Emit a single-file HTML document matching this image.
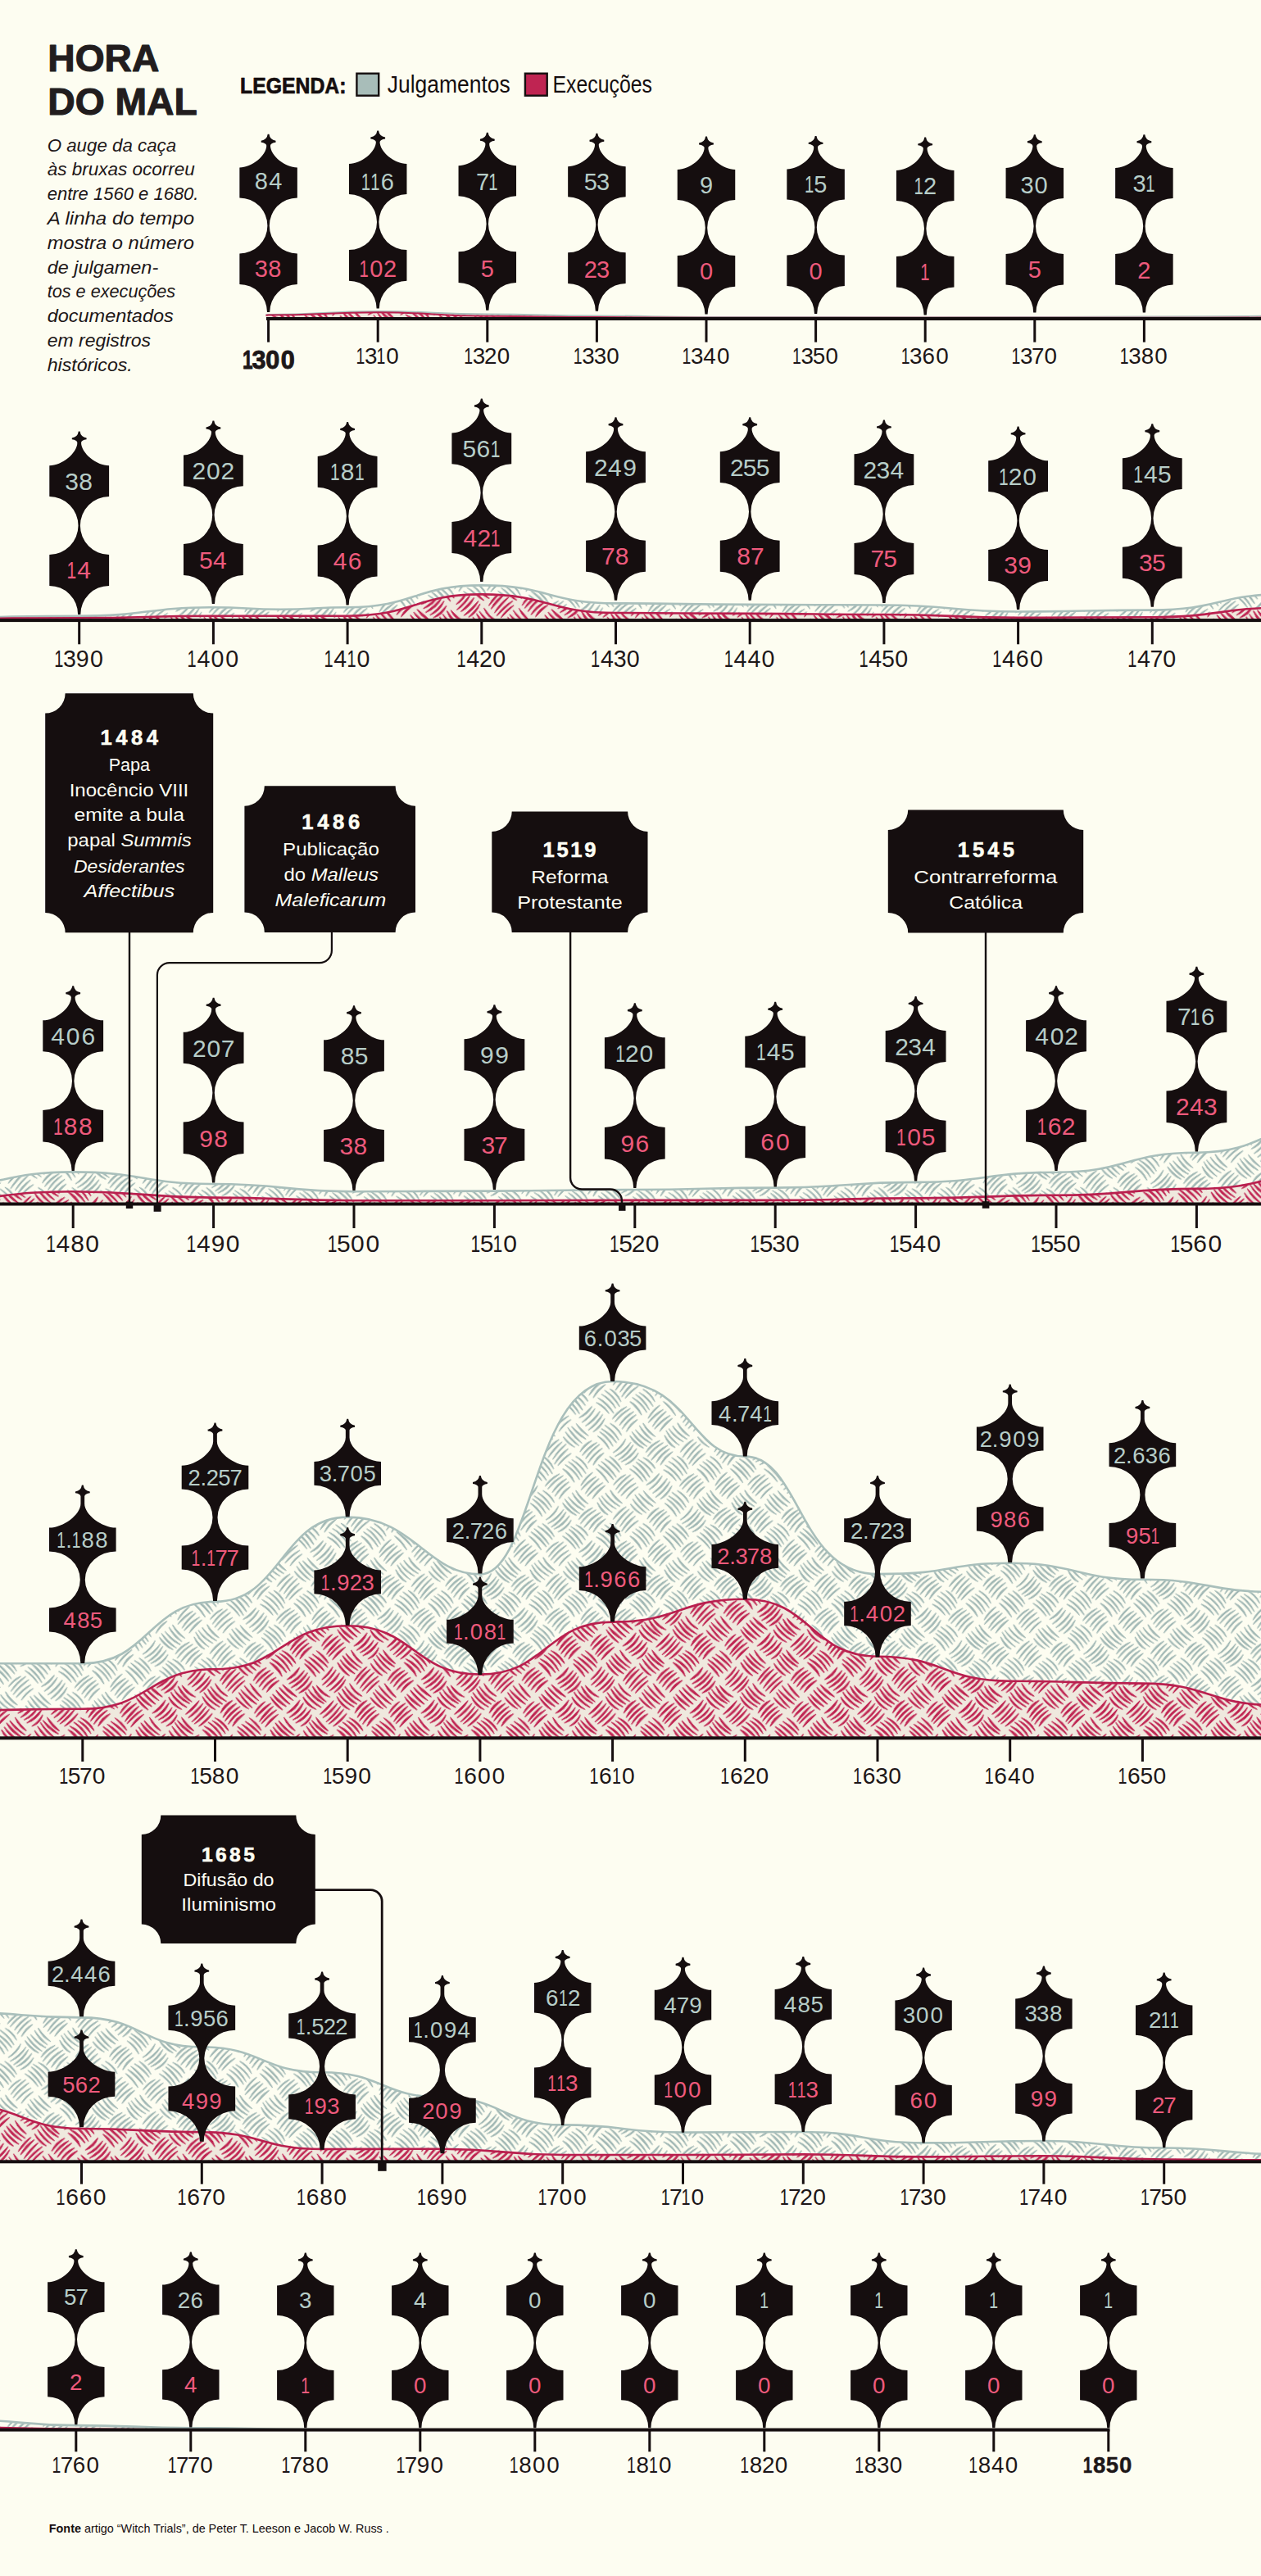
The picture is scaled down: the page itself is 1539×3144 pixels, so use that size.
<!DOCTYPE html>
<html><head><meta charset="utf-8"><title>Hora do mal</title>
<style>html,body{margin:0;padding:0;background:#fdfdf1}svg{display:block}text{font-family:"Liberation Sans", sans-serif}</style></head>
<body>
<svg width="1539" height="3144" viewBox="0 0 1539 3144">
<defs>
<pattern id="hg" width="116" height="116" patternUnits="userSpaceOnUse" patternTransform="translate(5 9) rotate(45)"><rect x="-1" y="-1" width="118" height="118" fill="#fdfdf1"/><g fill="#9fb6b3" stroke="#9fb6b3" stroke-width="1.15" stroke-linejoin="round"><path d="M5.16 3.04 Q15.14 1.89 25.07 3.42 Q15.2 -0.8 5.16 3.04 Z"/><path d="M2.11 9.12 Q14.44 7.96 26.66 9.9 Q14.51 5.69 2.11 9.12 Z"/><path d="M2.34 15.12 Q14.67 13.44 27.09 14.16 Q14.55 10.47 2.34 15.12 Z"/><path d="M3.39 19.25 Q15.32 18.12 27.11 20.25 Q15.41 16.02 3.39 19.25 Z"/><path d="M5.28 24.68 Q15.85 24.02 26.28 25.84 Q16.01 21.13 5.28 24.68 Z"/><path d="M4.01 34.06 Q-0.14 43.65 3.63 53.4 Q2.89 43.71 4.01 34.06 Z"/><path d="M10.13 31.04 Q5.47 42.57 8.68 54.58 Q8.45 42.75 10.13 31.04 Z"/><path d="M14.01 30.41 Q10.52 42.52 14.46 54.5 Q13.06 42.47 14.01 30.41 Z"/><path d="M19.75 31.22 Q16.23 43.72 20.05 56.12 Q18.68 43.68 19.75 31.22 Z"/><path d="M25.04 34.13 Q21.72 44.07 26.33 53.49 Q24.76 43.87 25.04 34.13 Z"/><path d="M4.12 61.15 Q14.51 59.62 24.8 61.71 Q14.57 57.44 4.12 61.15 Z"/><path d="M3.57 67.27 Q15.5 65.44 27.45 67.2 Q15.5 63.23 3.57 67.27 Z"/><path d="M2.15 72.02 Q14.8 70.92 27.24 73.45 Q14.92 68.77 2.15 72.02 Z"/><path d="M2 77.43 Q14.54 75.82 27.04 77.81 Q14.58 73.62 2 77.43 Z"/><path d="M3.66 83.1 Q14.32 82.29 24.76 84.62 Q14.51 79.65 3.66 83.1 Z"/><path d="M4.94 90.47 Q0.25 101.54 3.25 113.18 Q2.94 101.74 4.94 90.47 Z"/><path d="M9.62 88.94 Q5.17 100.97 7.97 113.49 Q7.41 101.12 9.62 88.94 Z"/><path d="M15.19 88.68 Q10.95 100.52 14.75 112.52 Q13.96 100.58 15.19 88.68 Z"/><path d="M19.95 89.26 Q16.2 101.36 20.17 113.4 Q18.9 101.34 19.95 89.26 Z"/><path d="M25.32 92.23 Q21.95 102.26 26.12 111.98 Q24.47 102.16 25.32 92.23 Z"/><path d="M32.02 3.32 Q34.69 14.34 33.06 25.55 Q37.12 14.22 32.02 3.32 Z"/><path d="M39.25 1.68 Q40.61 14.52 37.93 27.15 Q43.3 14.66 39.25 1.68 Z"/><path d="M43.54 1.73 Q45.59 14.44 43.93 27.21 Q48.62 14.4 43.54 1.73 Z"/><path d="M49.74 2.17 Q50.71 14.49 48.02 26.55 Q53.78 14.71 49.74 2.17 Z"/><path d="M55.05 4.36 Q56.49 15.07 53.89 25.56 Q59.19 15.22 55.05 4.36 Z"/><path d="M33.27 31.98 Q43.95 31.58 54.56 32.96 Q44.07 29.11 33.27 31.98 Z"/><path d="M31.39 38.13 Q43.23 36.7 55.14 37.13 Q43.13 34.3 31.39 38.13 Z"/><path d="M30.47 43.55 Q43.6 43.05 56.68 44.26 Q43.66 40.51 30.47 43.55 Z"/><path d="M30.7 48.81 Q43.48 48.05 56.27 48.59 Q43.45 45.1 30.7 48.81 Z"/><path d="M32.07 54.26 Q43.31 54.21 54.46 55.65 Q43.48 51.46 32.07 54.26 Z"/><path d="M32.28 60.69 Q29.65 71.39 33.49 81.72 Q32.05 71.25 32.28 60.69 Z"/><path d="M38.92 61.22 Q34.67 73.02 37.43 85.25 Q37.61 73.2 38.92 61.22 Z"/><path d="M43.09 60.45 Q40.37 72.91 44.35 85.02 Q42.99 72.77 43.09 60.45 Z"/><path d="M49.9 60.58 Q45.7 72.75 48.23 85.39 Q48.36 72.93 49.9 60.58 Z"/><path d="M54.29 61.16 Q51 72.18 54.73 83.06 Q53.95 72.12 54.29 61.16 Z"/><path d="M33.61 90.63 Q44.3 94.98 55.31 91.54 Q44.4 92.42 33.61 90.63 Z"/><path d="M32.5 95.7 Q43.86 100.46 55.68 97 Q44.02 97.46 32.5 95.7 Z"/><path d="M32.52 102.79 Q44.95 105.73 56.86 101.12 Q44.79 103.41 32.52 102.79 Z"/><path d="M31.23 107.53 Q43.98 111.52 56.64 107.28 Q43.95 108.52 31.23 107.53 Z"/><path d="M32.95 112.62 Q44.17 116.07 55.06 111.68 Q44.06 113.46 32.95 112.62 Z"/><path d="M63.23 3.96 Q72.9 2.18 82.69 3.07 Q72.79 -0.25 63.23 3.96 Z"/><path d="M60.14 10.01 Q72.01 8.14 84.01 8.92 Q71.9 5.69 60.14 10.01 Z"/><path d="M61.09 13.88 Q73.47 13.54 85.72 15.39 Q73.65 10.64 61.09 13.88 Z"/><path d="M61.11 19.75 Q73.7 19.22 86.18 21.06 Q73.85 16.49 61.11 19.75 Z"/><path d="M61.36 25.29 Q72.49 23.91 83.65 25.01 Q72.46 21.29 61.36 25.29 Z"/><path d="M62.73 34 Q58.72 43.34 61.11 53.23 Q60.84 43.52 62.73 34 Z"/><path d="M67.1 29.89 Q63.63 42.54 67.06 55.2 Q66.24 42.55 67.1 29.89 Z"/><path d="M72.61 30 Q68.87 42.97 71.9 56.12 Q71.35 43.04 72.61 30 Z"/><path d="M78.76 32.57 Q74.62 44.04 76.97 56 Q76.83 44.2 78.76 32.57 Z"/><path d="M83.89 33.83 Q80.61 43.8 83.75 53.81 Q82.74 43.81 83.89 33.83 Z"/><path d="M63.08 60.68 Q73.48 65.28 84.25 61.61 Q73.6 62.55 63.08 60.68 Z"/><path d="M61.46 67.42 Q73.41 70.73 85.03 66.41 Q73.32 68.64 61.46 67.42 Z"/><path d="M60.45 73.04 Q72.42 76.29 83.95 71.7 Q72.29 73.98 60.45 73.04 Z"/><path d="M59.71 76.96 Q71.37 81.73 83.49 78.29 Q71.52 79.07 59.71 76.96 Z"/><path d="M62.53 82.59 Q71.88 87.41 81.77 83.85 Q72.06 84.57 62.53 82.59 Z"/><path d="M62.72 91.18 Q57.67 101.81 60.94 113.11 Q60.35 102.02 62.72 91.18 Z"/><path d="M67.46 89.97 Q62.83 102.3 66.02 115.08 Q65 102.42 67.46 89.97 Z"/><path d="M73.66 88.3 Q68.67 101.5 72.3 115.13 Q71.62 101.65 73.66 88.3 Z"/><path d="M78.3 89.69 Q74.07 101.33 78.59 112.86 Q77.14 101.29 78.3 89.69 Z"/><path d="M83.51 89.7 Q79.76 100.63 84.29 111.25 Q82.37 100.53 83.51 89.7 Z"/><path d="M90.78 4.15 Q91.32 14.57 89.62 24.86 Q94.29 14.73 90.78 4.15 Z"/><path d="M95.32 3.6 Q97.01 14.95 96.04 26.39 Q99.56 14.87 95.32 3.6 Z"/><path d="M101.94 1.51 Q103.12 14.01 102.14 26.52 Q106.18 13.98 101.94 1.51 Z"/><path d="M106.95 1.85 Q108.65 14.64 108.18 27.54 Q111.69 14.5 106.95 1.85 Z"/><path d="M112.3 3.76 Q114.33 14.19 113.83 24.81 Q117.01 14 112.3 3.76 Z"/><path d="M92.09 32.53 Q102.52 35.61 112.94 32.47 Q102.52 33.01 92.09 32.53 Z"/><path d="M90.46 38.95 Q102.2 41.59 113.56 37.64 Q102.03 38.62 90.46 38.95 Z"/><path d="M88.21 43.22 Q100.82 47.19 113.76 44.48 Q100.97 44.14 88.21 43.22 Z"/><path d="M89.98 48.97 Q101.6 52.43 113.32 49.31 Q101.65 49.47 89.98 48.97 Z"/><path d="M92.35 55.1 Q101.77 57.69 110.91 54.27 Q101.66 55.3 92.35 55.1 Z"/><path d="M90.82 61.27 Q87.28 72.11 90.52 83.05 Q90.26 72.15 90.82 61.27 Z"/><path d="M95.57 60.76 Q93.06 73.38 97.02 85.62 Q95.74 73.23 95.57 60.76 Z"/><path d="M100.95 58.88 Q98.78 71.34 102.56 83.42 Q100.93 71.2 100.95 58.88 Z"/><path d="M106.68 61.27 Q103.97 73.86 108.09 86.07 Q107 73.69 106.68 61.27 Z"/><path d="M113.19 62.78 Q109.7 73.37 112.31 84.21 Q112 73.46 113.19 62.78 Z"/><path d="M91.34 89.46 Q101.58 88.25 111.51 91.02 Q101.74 86.14 91.34 89.46 Z"/><path d="M87.93 95.23 Q101.39 93.81 114.69 96.31 Q101.47 91.63 87.93 95.23 Z"/><path d="M88.54 101.3 Q100.58 99.23 112.64 101.13 Q100.56 97.11 88.54 101.3 Z"/><path d="M88.74 107.55 Q101.9 105.5 115.12 107.12 Q101.86 103.07 88.74 107.55 Z"/><path d="M91.4 112.85 Q101.24 110.43 111.32 111.5 Q101.07 107.84 91.4 112.85 Z"/></g></pattern>
<pattern id="hp" width="116" height="116" patternUnits="userSpaceOnUse" patternTransform="translate(17 0) rotate(45)"><rect x="-1" y="-1" width="118" height="118" fill="#efe9de"/><g fill="#bf2250" stroke="#bf2250" stroke-width="1.15" stroke-linejoin="round"><path d="M2.74 3.35 Q13.35 8.36 24.1 3.64 Q13.39 5.42 2.74 3.35 Z"/><path d="M1.4 9.98 Q14.86 14.6 27.96 9.04 Q14.74 11.21 1.4 9.98 Z"/><path d="M0.97 14.42 Q13.69 20.11 26.62 14.89 Q13.77 15.98 0.97 14.42 Z"/><path d="M0.97 20.69 Q13.96 25.01 26.56 19.68 Q13.84 22.14 0.97 20.69 Z"/><path d="M2.97 25.53 Q14.04 30.83 25.23 25.78 Q14.08 27.27 2.97 25.53 Z"/><path d="M3.56 32.13 Q3.48 43.63 3.79 55.13 Q7.28 43.59 3.56 32.13 Z"/><path d="M9.28 31.19 Q8.98 43.45 9.16 55.71 Q12.87 43.47 9.28 31.19 Z"/><path d="M14.52 30.81 Q15.2 43.65 15.53 56.5 Q18.25 43.53 14.52 30.81 Z"/><path d="M19.77 30.64 Q19.75 43.23 19.59 55.81 Q23.03 43.25 19.77 30.64 Z"/><path d="M25.99 31.8 Q25.9 42.89 25.42 53.97 Q28.93 42.97 25.99 31.8 Z"/><path d="M2.82 61.49 Q13.6 66.35 24.84 62.64 Q13.81 62.45 2.82 61.49 Z"/><path d="M1.78 67.72 Q14.56 71.23 26.81 66.16 Q14.32 67.32 1.78 67.72 Z"/><path d="M1.56 71.78 Q13.77 75.98 26.25 72.61 Q13.87 73.09 1.56 71.78 Z"/><path d="M2.42 77.52 Q14.22 81.96 26.29 78.3 Q14.33 78.54 2.42 77.52 Z"/><path d="M3.57 83.79 Q13.59 87.98 23.77 84.19 Q13.66 84.68 3.57 83.79 Z"/><path d="M3.2 89.96 Q0.58 101.53 4.54 112.71 Q3.92 101.33 3.2 89.96 Z"/><path d="M8.11 89.06 Q5.05 101.53 9.26 113.66 Q9.08 101.34 8.11 89.06 Z"/><path d="M14.27 88.58 Q11.7 101.49 15.66 114.04 Q15 101.31 14.27 88.58 Z"/><path d="M21.04 88.22 Q17.38 101.35 20.08 114.71 Q20.5 101.46 21.04 88.22 Z"/><path d="M25.73 91.25 Q22.56 101.92 25.44 112.66 Q25.37 101.95 25.73 91.25 Z"/><path d="M32.14 2.95 Q27.64 13.6 32.7 23.99 Q31.76 13.49 32.14 2.95 Z"/><path d="M38.01 2.08 Q33.56 14.05 38.66 25.76 Q37.69 13.94 38.01 2.08 Z"/><path d="M43.84 1.91 Q39.2 14.44 43.48 27.1 Q42.68 14.49 43.84 1.91 Z"/><path d="M48.61 3.56 Q44.59 15.33 48.97 26.97 Q47.55 15.28 48.61 3.56 Z"/><path d="M54 4.19 Q49.42 14.64 54.41 24.9 Q53.55 14.56 54 4.19 Z"/><path d="M32.02 32.96 Q43.32 31.11 54.69 32.47 Q43.25 27.82 32.02 32.96 Z"/><path d="M32.18 37.75 Q43.29 36.2 54.42 37.69 Q43.29 32.75 32.18 37.75 Z"/><path d="M30.09 42.59 Q43.24 41.52 56.24 43.78 Q43.38 38.36 30.09 42.59 Z"/><path d="M29.86 49.4 Q42.12 47.28 54.54 48.13 Q41.94 43.75 29.86 49.4 Z"/><path d="M31.68 53.99 Q42.87 53.48 53.92 55.3 Q43.11 49.32 31.68 53.99 Z"/><path d="M33 61.6 Q28.69 72.69 33.01 83.78 Q32.25 72.69 33 61.6 Z"/><path d="M38.79 60.52 Q33.77 72.05 37.69 83.99 Q37.63 72.23 38.79 60.52 Z"/><path d="M43.35 59.92 Q39.26 71.93 43.33 83.95 Q42.34 71.94 43.35 59.92 Z"/><path d="M49.88 61.57 Q45.07 72.57 48.78 83.99 Q48.53 72.74 49.88 61.57 Z"/><path d="M54.98 61.56 Q50.26 71.73 54.43 82.14 Q54.07 71.83 54.98 61.56 Z"/><path d="M32.92 89.33 Q43.41 93.59 54.45 91.08 Q43.69 90.13 32.92 89.33 Z"/><path d="M29.81 95.95 Q42.16 99.51 54.65 96.47 Q42.23 96.23 29.81 95.95 Z"/><path d="M30.14 102.48 Q43.27 105.49 56.11 101.39 Q43.11 101.7 30.14 102.48 Z"/><path d="M31.01 106.69 Q43.01 110.6 55.42 108.29 Q43.2 107.69 31.01 106.69 Z"/><path d="M32.9 113.44 Q43.3 115.94 53.32 112.21 Q43.12 113.02 32.9 113.44 Z"/><path d="M61.9 3.52 Q72.23 3.96 82.56 3.86 Q72.29 0.31 61.9 3.52 Z"/><path d="M61.42 9.94 Q73.61 9.3 85.76 8.21 Q73.36 5.74 61.42 9.94 Z"/><path d="M60.83 15.55 Q73.39 15.27 85.91 14.25 Q73.19 11.42 60.83 15.55 Z"/><path d="M59.35 21.1 Q71.54 20.45 83.75 20.07 Q71.42 17.61 59.35 21.1 Z"/><path d="M62.74 25 Q73.1 25.83 83.49 26.2 Q73.31 22.27 62.74 25 Z"/><path d="M61.6 32.88 Q62.74 43.34 61.31 53.77 Q66.81 43.4 61.6 32.88 Z"/><path d="M68.38 31.2 Q69.07 43.57 66.65 55.71 Q72.59 43.82 68.38 31.2 Z"/><path d="M73.13 30.31 Q73.9 43.81 71.95 57.19 Q77.81 43.98 73.13 30.31 Z"/><path d="M78.04 31.83 Q79.77 43.73 78.11 55.64 Q83.02 43.72 78.04 31.83 Z"/><path d="M84.11 33.8 Q85.18 44.51 83.2 55.1 Q88.76 44.67 84.11 33.8 Z"/><path d="M61.87 61.98 Q73.35 64.8 84.32 60.41 Q73.06 60.76 61.87 61.98 Z"/><path d="M61.53 67.33 Q73.12 70.05 84.5 66.52 Q73.02 66.97 61.53 67.33 Z"/><path d="M61.06 72.57 Q72.91 75.77 84.78 72.65 Q72.92 72.62 61.06 72.57 Z"/><path d="M61.4 79.01 Q72.68 82.08 83.62 77.94 Q72.49 78.04 61.4 79.01 Z"/><path d="M61.77 83.24 Q72.44 86.75 83.3 83.86 Q72.54 83.51 61.77 83.24 Z"/><path d="M61.38 91.8 Q58.62 101.47 62.16 110.89 Q61.63 101.35 61.38 91.8 Z"/><path d="M67.76 88.2 Q63.54 100.31 66.76 112.73 Q67.69 100.48 67.76 88.2 Z"/><path d="M72.45 88.92 Q69.32 101.55 73.65 113.84 Q73.5 101.35 72.45 88.92 Z"/><path d="M78.31 89.01 Q74.48 101.24 77.21 113.76 Q77.75 101.38 78.31 89.01 Z"/><path d="M83.53 91.62 Q79.98 102.45 83.31 113.35 Q83.56 102.49 83.53 91.62 Z"/><path d="M89.86 3.43 Q91.4 13.51 91.37 23.71 Q94.35 13.29 89.86 3.43 Z"/><path d="M95.1 3.25 Q96.51 15.57 96.56 27.96 Q99.68 15.38 95.1 3.25 Z"/><path d="M100.96 2.92 Q101.56 14.4 101.6 25.9 Q105.54 14.29 100.96 2.92 Z"/><path d="M107.56 1.94 Q108.05 14.32 107.54 26.7 Q111.58 14.32 107.56 1.94 Z"/><path d="M111.72 3.38 Q113.17 13.72 113.14 24.16 Q116.22 13.51 111.72 3.38 Z"/><path d="M91.84 33.51 Q102.9 38.1 113.17 31.95 Q102.61 34.11 91.84 33.51 Z"/><path d="M89.07 37.69 Q101.35 43.62 114.25 39.23 Q101.56 40.05 89.07 37.69 Z"/><path d="M88.16 44.07 Q101.21 48.3 113.72 42.66 Q101.04 45.17 88.16 44.07 Z"/><path d="M87.94 49.11 Q101.42 53.75 114.64 48.41 Q101.33 50.52 87.94 49.11 Z"/><path d="M90.41 55.13 Q101.33 59.76 112 54.58 Q101.25 56.71 90.41 55.13 Z"/><path d="M90.11 60.65 Q91.54 71.81 90.16 82.98 Q95.71 71.81 90.11 60.65 Z"/><path d="M95.56 60.05 Q97.48 72.17 96.13 84.36 Q101.19 72.08 95.56 60.05 Z"/><path d="M102.16 61.29 Q103.52 72.47 101.13 83.48 Q106.74 72.62 102.16 61.29 Z"/><path d="M107.48 59.36 Q108.41 71.63 106.18 83.73 Q112.22 71.83 107.48 59.36 Z"/><path d="M112.86 63.35 Q115.17 72.65 113.32 82.06 Q117.99 72.58 112.86 63.35 Z"/><path d="M91.46 89.31 Q101.56 94.26 112.33 91 Q101.85 90.76 91.46 89.31 Z"/><path d="M89.74 96.61 Q102.53 100.09 115.07 95.78 Q102.43 97.03 89.74 96.61 Z"/><path d="M88.82 101.42 Q101.66 105.55 114.28 100.79 Q101.56 101.38 88.82 101.42 Z"/><path d="M90.27 106.93 Q102.53 110.52 114.59 106.34 Q102.45 107.47 90.27 106.93 Z"/><path d="M90.38 111.69 Q100.79 116.11 111.56 112.68 Q100.94 112.97 90.38 111.69 Z"/></g></pattern>
</defs>
<rect width="1539" height="3144" fill="#fdfdf1"/>
<g stroke="#221d1e" stroke-width="1.1" stroke-linejoin="round">
<text x="58.3" y="87.1" font-size="46.2" fill="#221d1e" font-weight="bold" font-style="normal" text-anchor="start" textLength="136" lengthAdjust="spacingAndGlyphs">HORA</text>
<text x="58.3" y="139.5" font-size="46.2" fill="#221d1e" font-weight="bold" font-style="normal" text-anchor="start" textLength="182.5" lengthAdjust="spacingAndGlyphs">DO MAL</text>
</g>
<text x="57.7" y="184.6" font-size="22.3" fill="#1d1718" font-weight="normal" font-style="italic" text-anchor="start" textLength="157.4" lengthAdjust="spacingAndGlyphs">O auge da caça</text>
<text x="57.7" y="214.4" font-size="22.3" fill="#1d1718" font-weight="normal" font-style="italic" text-anchor="start" textLength="180.2" lengthAdjust="spacingAndGlyphs">às bruxas ocorreu</text>
<text x="57.7" y="244.2" font-size="22.3" fill="#1d1718" font-weight="normal" font-style="italic" text-anchor="start" textLength="184.8" lengthAdjust="spacingAndGlyphs">entre 1560 e 1680.</text>
<text x="57.7" y="274" font-size="22.3" fill="#1d1718" font-weight="normal" font-style="italic" text-anchor="start" textLength="179.3" lengthAdjust="spacingAndGlyphs">A linha do tempo</text>
<text x="57.7" y="303.8" font-size="22.3" fill="#1d1718" font-weight="normal" font-style="italic" text-anchor="start" textLength="179.3" lengthAdjust="spacingAndGlyphs">mostra o número</text>
<text x="57.7" y="333.6" font-size="22.3" fill="#1d1718" font-weight="normal" font-style="italic" text-anchor="start" textLength="135.5" lengthAdjust="spacingAndGlyphs">de julgamen-</text>
<text x="57.7" y="363.4" font-size="22.3" fill="#1d1718" font-weight="normal" font-style="italic" text-anchor="start" textLength="156.5" lengthAdjust="spacingAndGlyphs">tos e execuções</text>
<text x="57.7" y="393.2" font-size="22.3" fill="#1d1718" font-weight="normal" font-style="italic" text-anchor="start" textLength="154.1" lengthAdjust="spacingAndGlyphs">documentados</text>
<text x="57.7" y="423" font-size="22.3" fill="#1d1718" font-weight="normal" font-style="italic" text-anchor="start" textLength="126.4" lengthAdjust="spacingAndGlyphs">em registros</text>
<text x="57.7" y="452.8" font-size="22.3" fill="#1d1718" font-weight="normal" font-style="italic" text-anchor="start" textLength="104.1" lengthAdjust="spacingAndGlyphs">históricos.</text>
<g stroke="#150e0f" stroke-width="0.7" stroke-linejoin="round">
<text x="293" y="114.4" font-size="27" fill="#150e0f" font-weight="bold" font-style="normal" text-anchor="start" textLength="129.5" lengthAdjust="spacingAndGlyphs">LEGENDA:</text>
</g>
<rect x="435.4" y="89.7" width="26.8" height="27" fill="#a8bdb9" stroke="#150e0f" stroke-width="2.4"/>
<text x="472.7" y="113.2" font-size="28.6" fill="#150e0f" font-weight="normal" font-style="normal" text-anchor="start" textLength="150" lengthAdjust="spacingAndGlyphs">Julgamentos</text>
<rect x="640.9" y="89.7" width="26.8" height="27" fill="#bf2452" stroke="#150e0f" stroke-width="2.4"/>
<text x="674.5" y="113.2" font-size="28.6" fill="#150e0f" font-weight="normal" font-style="normal" text-anchor="start" textLength="121.5" lengthAdjust="spacingAndGlyphs">Execuções</text>
<text x="59.8" y="3090.8" font-size="14.5" fill="#150e0f" textLength="415" lengthAdjust="spacingAndGlyphs"><tspan font-weight="bold">Fonte</tspan> artigo “Witch Trials”, de Peter T. Leeson e Jacob W. Russ .</text>
<path d="M324.5 384.2 C326.05 384.2 326.05 384 327.6 384 C394.4 384 394.4 380 461.2 380 C528 380 528 383.4 594.8 383.4 C661.6 383.4 661.6 385.4 728.4 385.4 C795.2 385.4 795.2 387 862 387 C995.6 387 995.6 387.2 1129.2 387.2 C1262.8 387.2 1262.8 386.6 1396.4 386.6 C1469.7 386.6 1469.7 385.8 1543 385.8 L1543 389 L324.5 389 Z" fill="url(#hg)"/>
<path d="M324.5 384.2 C326.05 384.2 326.05 384 327.6 384 C394.4 384 394.4 380 461.2 380 C528 380 528 383.4 594.8 383.4 C661.6 383.4 661.6 385.4 728.4 385.4 C795.2 385.4 795.2 387 862 387 C995.6 387 995.6 387.2 1129.2 387.2 C1262.8 387.2 1262.8 386.6 1396.4 386.6 C1469.7 386.6 1469.7 385.8 1543 385.8" fill="none" stroke="#a9bfbb" stroke-width="2" stroke-linejoin="round"/>
<path d="M324.5 384.8 C326.05 384.8 326.05 384.6 327.6 384.6 C394.4 384.6 394.4 381.2 461.2 381.2 C528 381.2 528 385.8 594.8 385.8 C661.6 385.8 661.6 387 728.4 387 C795.2 387 795.2 387.8 862 387.8 C1129.2 387.8 1129.2 387.8 1396.4 387.8 C1469.7 387.8 1469.7 387.6 1543 387.6 L1543 389 L324.5 389 Z" fill="url(#hp)"/>
<path d="M324.5 384.8 C326.05 384.8 326.05 384.6 327.6 384.6 C394.4 384.6 394.4 381.2 461.2 381.2 C528 381.2 528 385.8 594.8 385.8 C661.6 385.8 661.6 387 728.4 387 C795.2 387 795.2 387.8 862 387.8 C1129.2 387.8 1129.2 387.8 1396.4 387.8 C1469.7 387.8 1469.7 387.6 1543 387.6" fill="none" stroke="#b91f4e" stroke-width="2" stroke-linejoin="round"/>
<path d="M-67 753.5 C14.85 753.5 14.85 751.8 96.7 751.8 C178.55 751.8 178.55 741.3 260.4 741.3 C301.32 741.3 301.32 743.7 342.25 743.7 C383.17 743.7 383.17 741.3 424.1 741.3 C505.95 741.3 505.95 714.4 587.8 714.4 C669.65 714.4 669.65 736.4 751.5 736.4 C833.35 736.4 833.35 737.9 915.2 737.9 C997.05 737.9 997.05 738.5 1078.9 738.5 C1160.75 738.5 1160.75 746.5 1242.6 746.5 C1324.45 746.5 1324.45 744.6 1406.3 744.6 C1488.15 744.6 1488.15 725 1570 725 L1570 757.1 L-67 757.1 Z" fill="url(#hg)"/>
<path d="M-67 753.5 C14.85 753.5 14.85 751.8 96.7 751.8 C178.55 751.8 178.55 741.3 260.4 741.3 C301.32 741.3 301.32 743.7 342.25 743.7 C383.17 743.7 383.17 741.3 424.1 741.3 C505.95 741.3 505.95 714.4 587.8 714.4 C669.65 714.4 669.65 736.4 751.5 736.4 C833.35 736.4 833.35 737.9 915.2 737.9 C997.05 737.9 997.05 738.5 1078.9 738.5 C1160.75 738.5 1160.75 746.5 1242.6 746.5 C1324.45 746.5 1324.45 744.6 1406.3 744.6 C1488.15 744.6 1488.15 725 1570 725" fill="none" stroke="#a9bfbb" stroke-width="2.6" stroke-linejoin="round"/>
<path d="M-67 755 C14.85 755 14.85 754.3 96.7 754.3 C178.55 754.3 178.55 751.7 260.4 751.7 C342.25 751.7 342.25 751.7 424.1 751.7 C505.95 751.7 505.95 725.4 587.8 725.4 C669.65 725.4 669.65 748 751.5 748 C833.35 748 833.35 748.9 915.2 748.9 C997.05 748.9 997.05 750 1078.9 750 C1160.75 750 1160.75 753.8 1242.6 753.8 C1324.45 753.8 1324.45 753.2 1406.3 753.2 C1488.15 753.2 1488.15 741.5 1570 741.5 L1570 757.1 L-67 757.1 Z" fill="url(#hp)"/>
<path d="M-67 755 C14.85 755 14.85 754.3 96.7 754.3 C178.55 754.3 178.55 751.7 260.4 751.7 C342.25 751.7 342.25 751.7 424.1 751.7 C505.95 751.7 505.95 725.4 587.8 725.4 C669.65 725.4 669.65 748 751.5 748 C833.35 748 833.35 748.9 915.2 748.9 C997.05 748.9 997.05 750 1078.9 750 C1160.75 750 1160.75 753.8 1242.6 753.8 C1324.45 753.8 1324.45 753.2 1406.3 753.2 C1488.15 753.2 1488.15 741.5 1570 741.5" fill="none" stroke="#b91f4e" stroke-width="2.6" stroke-linejoin="round"/>
<path d="M-82.2 1448.9 C3.5 1448.9 3.5 1430.4 89.2 1430.4 C174.9 1430.4 174.9 1445 260.6 1445 C346.3 1445 346.3 1454.2 432 1454.2 C517.7 1454.2 517.7 1453.6 603.4 1453.6 C689.1 1453.6 689.1 1452 774.8 1452 C860.5 1452 860.5 1449.6 946.2 1449.6 C1031.9 1449.6 1031.9 1442.9 1117.6 1442.9 C1203.3 1442.9 1203.3 1430.7 1289 1430.7 C1374.7 1430.7 1374.7 1406.8 1460.4 1406.8 C1546.1 1406.8 1546.1 1367.2 1631.8 1367.2 L1631.8 1469.5 L-82.2 1469.5 Z" fill="url(#hg)"/>
<path d="M-82.2 1448.9 C3.5 1448.9 3.5 1430.4 89.2 1430.4 C174.9 1430.4 174.9 1445 260.6 1445 C346.3 1445 346.3 1454.2 432 1454.2 C517.7 1454.2 517.7 1453.6 603.4 1453.6 C689.1 1453.6 689.1 1452 774.8 1452 C860.5 1452 860.5 1449.6 946.2 1449.6 C1031.9 1449.6 1031.9 1442.9 1117.6 1442.9 C1203.3 1442.9 1203.3 1430.7 1289 1430.7 C1374.7 1430.7 1374.7 1406.8 1460.4 1406.8 C1546.1 1406.8 1546.1 1367.2 1631.8 1367.2" fill="none" stroke="#a9bfbb" stroke-width="2.6" stroke-linejoin="round"/>
<path d="M-82.2 1464.6 C3.5 1464.6 3.5 1454.2 89.2 1454.2 C174.9 1454.2 174.9 1461.6 260.6 1461.6 C346.3 1461.6 346.3 1465.2 432 1465.2 C517.7 1465.2 517.7 1465.2 603.4 1465.2 C689.1 1465.2 689.1 1464.9 774.8 1464.9 C860.5 1464.9 860.5 1464.9 946.2 1464.9 C1031.9 1464.9 1031.9 1462.4 1117.6 1462.4 C1203.3 1462.4 1203.3 1458.8 1289 1458.8 C1374.7 1458.8 1374.7 1450.9 1460.4 1450.9 C1546.1 1450.9 1546.1 1429.3 1631.8 1429.3 L1631.8 1469.5 L-82.2 1469.5 Z" fill="url(#hp)"/>
<path d="M-82.2 1464.6 C3.5 1464.6 3.5 1454.2 89.2 1454.2 C174.9 1454.2 174.9 1461.6 260.6 1461.6 C346.3 1461.6 346.3 1465.2 432 1465.2 C517.7 1465.2 517.7 1465.2 603.4 1465.2 C689.1 1465.2 689.1 1464.9 774.8 1464.9 C860.5 1464.9 860.5 1464.9 946.2 1464.9 C1031.9 1464.9 1031.9 1462.4 1117.6 1462.4 C1203.3 1462.4 1203.3 1458.8 1289 1458.8 C1374.7 1458.8 1374.7 1450.9 1460.4 1450.9 C1546.1 1450.9 1546.1 1429.3 1631.8 1429.3" fill="none" stroke="#b91f4e" stroke-width="2.6" stroke-linejoin="round"/>
<path d="M-60.9 2030.3 C19.95 2030.3 19.95 2030.3 100.8 2030.3 C181.65 2030.3 181.65 1954.8 262.5 1954.8 C343.35 1954.8 343.35 1851.6 424.2 1851.6 C505.05 1851.6 521.22 1921.4 585.9 1921.4 C650.58 1921.4 650.58 1686 747.6 1686 C844.62 1686 841.39 1777.6 909.3 1777.6 C977.21 1777.6 973.98 1921.1 1071 1921.1 C1168.02 1921.1 1151.85 1907.8 1232.7 1907.8 C1313.55 1907.8 1313.55 1927.8 1394.4 1927.8 C1475.2 1927.8 1475.2 1943 1556 1943 L1556 2121.3 L-60.9 2121.3 Z" fill="url(#hg)"/>
<path d="M-60.9 2030.3 C19.95 2030.3 19.95 2030.3 100.8 2030.3 C181.65 2030.3 181.65 1954.8 262.5 1954.8 C343.35 1954.8 343.35 1851.6 424.2 1851.6 C505.05 1851.6 521.22 1921.4 585.9 1921.4 C650.58 1921.4 650.58 1686 747.6 1686 C844.62 1686 841.39 1777.6 909.3 1777.6 C977.21 1777.6 973.98 1921.1 1071 1921.1 C1168.02 1921.1 1151.85 1907.8 1232.7 1907.8 C1313.55 1907.8 1313.55 1927.8 1394.4 1927.8 C1475.2 1927.8 1475.2 1943 1556 1943" fill="none" stroke="#a9bfbb" stroke-width="2.6" stroke-linejoin="round"/>
<path d="M-60.9 2087.4 C19.95 2087.4 19.95 2085.8 100.8 2085.8 C181.65 2085.8 181.65 2037.2 262.5 2037.2 C343.35 2037.2 343.35 1984.2 424.2 1984.2 C505.05 1984.2 505.05 2043.6 585.9 2043.6 C666.75 2043.6 666.75 1979.6 747.6 1979.6 C828.45 1979.6 828.45 1951.8 909.3 1951.8 C990.15 1951.8 990.15 2021.7 1071 2021.7 C1151.85 2021.7 1151.85 2051.7 1232.7 2051.7 C1313.55 2051.7 1313.55 2054.6 1394.4 2054.6 C1475.2 2054.6 1475.2 2081 1556 2081 L1556 2121.3 L-60.9 2121.3 Z" fill="url(#hp)"/>
<path d="M-60.9 2087.4 C19.95 2087.4 19.95 2085.8 100.8 2085.8 C181.65 2085.8 181.65 2037.2 262.5 2037.2 C343.35 2037.2 343.35 1984.2 424.2 1984.2 C505.05 1984.2 505.05 2043.6 585.9 2043.6 C666.75 2043.6 666.75 1979.6 747.6 1979.6 C828.45 1979.6 828.45 1951.8 909.3 1951.8 C990.15 1951.8 990.15 2021.7 1071 2021.7 C1151.85 2021.7 1151.85 2051.7 1232.7 2051.7 C1313.55 2051.7 1313.55 2054.6 1394.4 2054.6 C1475.2 2054.6 1475.2 2081 1556 2081" fill="none" stroke="#b91f4e" stroke-width="2.6" stroke-linejoin="round"/>
<path d="M-47.3 2456 C26.1 2456 26.1 2462.4 99.5 2462.4 C172.9 2462.4 172.9 2498.4 246.3 2498.4 C319.7 2498.4 319.7 2529.3 393.1 2529.3 C466.5 2529.3 466.5 2559.8 539.9 2559.8 C613.3 2559.8 613.3 2593.4 686.7 2593.4 C760.1 2593.4 760.1 2602.6 833.5 2602.6 C906.9 2602.6 906.9 2602 980.3 2602 C1053.7 2602 1053.7 2615.4 1127.1 2615.4 C1200.5 2615.4 1200.5 2613 1273.9 2613 C1347.3 2613 1347.3 2621.5 1420.7 2621.5 C1494.1 2621.5 1494.1 2629.3 1567.5 2629.3 L1567.5 2638.3 L-47.3 2638.3 Z" fill="url(#hg)"/>
<path d="M-47.3 2456 C26.1 2456 26.1 2462.4 99.5 2462.4 C172.9 2462.4 172.9 2498.4 246.3 2498.4 C319.7 2498.4 319.7 2529.3 393.1 2529.3 C466.5 2529.3 466.5 2559.8 539.9 2559.8 C613.3 2559.8 613.3 2593.4 686.7 2593.4 C760.1 2593.4 760.1 2602.6 833.5 2602.6 C906.9 2602.6 906.9 2602 980.3 2602 C1053.7 2602 1053.7 2615.4 1127.1 2615.4 C1200.5 2615.4 1200.5 2613 1273.9 2613 C1347.3 2613 1347.3 2621.5 1420.7 2621.5 C1494.1 2621.5 1494.1 2629.3 1567.5 2629.3" fill="none" stroke="#a9bfbb" stroke-width="2.6" stroke-linejoin="round"/>
<path d="M-47.3 2569.6 C26.1 2569.6 26.1 2598 99.5 2598 C172.9 2598 172.9 2602.3 246.3 2602.3 C319.7 2602.3 319.7 2623 393.1 2623 C466.5 2623 466.5 2622.7 539.9 2622.7 C613.3 2622.7 613.3 2630 686.7 2630 C760.1 2630 760.1 2630 833.5 2630 C906.9 2630 906.9 2629.4 980.3 2629.4 C1053.7 2629.4 1053.7 2632.4 1127.1 2632.4 C1200.5 2632.4 1200.5 2631.2 1273.9 2631.2 C1347.3 2631.2 1347.3 2635.5 1420.7 2635.5 C1494.1 2635.5 1494.1 2636.5 1567.5 2636.5 L1567.5 2638.3 L-47.3 2638.3 Z" fill="url(#hp)"/>
<path d="M-47.3 2569.6 C26.1 2569.6 26.1 2598 99.5 2598 C172.9 2598 172.9 2602.3 246.3 2602.3 C319.7 2602.3 319.7 2623 393.1 2623 C466.5 2623 466.5 2622.7 539.9 2622.7 C613.3 2622.7 613.3 2630 686.7 2630 C760.1 2630 760.1 2630 833.5 2630 C906.9 2630 906.9 2629.4 980.3 2629.4 C1053.7 2629.4 1053.7 2632.4 1127.1 2632.4 C1200.5 2632.4 1200.5 2631.2 1273.9 2631.2 C1347.3 2631.2 1347.3 2635.5 1420.7 2635.5 C1494.1 2635.5 1494.1 2636.5 1567.5 2636.5" fill="none" stroke="#b91f4e" stroke-width="2.6" stroke-linejoin="round"/>
<path d="M-47.2 2953.2 C22.8 2953.2 22.8 2960.1 92.8 2960.1 C162.8 2960.1 162.8 2963.2 232.8 2963.2 C302.8 2963.2 302.8 2965 372.8 2965 C442.8 2965 442.8 2965.6 512.8 2965.6 L512.8 2965.6 L-47.2 2965.6 Z" fill="url(#hg)"/>
<path d="M-47.2 2953.2 C22.8 2953.2 22.8 2960.1 92.8 2960.1 C162.8 2960.1 162.8 2963.2 232.8 2963.2 C302.8 2963.2 302.8 2965 372.8 2965 C442.8 2965 442.8 2965.6 512.8 2965.6" fill="none" stroke="#a9bfbb" stroke-width="2.6" stroke-linejoin="round"/>
<path d="M-47.2 2962.5 C22.8 2962.5 22.8 2964.6 92.8 2964.6 C162.8 2964.6 162.8 2965.6 232.8 2965.6 L232.8 2965.6 L-47.2 2965.6 Z" fill="url(#hp)"/>
<path d="M-47.2 2962.5 C22.8 2962.5 22.8 2964.6 92.8 2964.6 C162.8 2964.6 162.8 2965.6 232.8 2965.6" fill="none" stroke="#b91f4e" stroke-width="2.6" stroke-linejoin="round"/>
<rect x="325" y="387" width="1214" height="4" fill="#150e0f"/>
<rect x="326.1" y="389" width="3" height="28.6" fill="#150e0f"/>
<g stroke="#1d1718" stroke-width="0.9" stroke-linejoin="round">
<text text-anchor="middle" font-size="30.5" fill="#1d1718" font-weight="bold" y="450.1" x="315.93 332.76 351.12">300</text>
<text text-anchor="middle" font-size="30.5" fill="#1d1718" font-weight="bold" transform="translate(302.2 450.1) scale(0.74 1)" x="0" y="0">1</text>
</g>
<rect x="459.7" y="389" width="3" height="28.6" fill="#150e0f"/>
<text text-anchor="middle" font-size="27.8" fill="#1d1718" font-weight="normal" y="444.4" x="452.65 479.09">30</text>
<text text-anchor="middle" font-size="27.8" fill="#1d1718" font-weight="normal" transform="translate(439.87 444.4) scale(0.7 1)" x="0" y="0">1</text>
<text text-anchor="middle" font-size="27.8" fill="#1d1718" font-weight="normal" transform="translate(464.91 444.4) scale(0.7 1)" x="0" y="0">1</text>
<rect x="593.3" y="389" width="3" height="28.6" fill="#150e0f"/>
<text text-anchor="middle" font-size="27.8" fill="#1d1718" font-weight="normal" y="444.4" x="584.46 598.78 614.48">320</text>
<text text-anchor="middle" font-size="27.8" fill="#1d1718" font-weight="normal" transform="translate(571.67 444.4) scale(0.7 1)" x="0" y="0">1</text>
<rect x="726.9" y="389" width="3" height="28.6" fill="#150e0f"/>
<text text-anchor="middle" font-size="27.8" fill="#1d1718" font-weight="normal" y="444.4" x="718.06 732.38 748.08">330</text>
<text text-anchor="middle" font-size="27.8" fill="#1d1718" font-weight="normal" transform="translate(705.27 444.4) scale(0.7 1)" x="0" y="0">1</text>
<rect x="860.5" y="389" width="3" height="28.6" fill="#150e0f"/>
<text text-anchor="middle" font-size="27.8" fill="#1d1718" font-weight="normal" y="444.4" x="850.64 865.98 882.7">340</text>
<text text-anchor="middle" font-size="27.8" fill="#1d1718" font-weight="normal" transform="translate(837.86 444.4) scale(0.7 1)" x="0" y="0">1</text>
<rect x="994.1" y="389" width="3" height="28.6" fill="#150e0f"/>
<text text-anchor="middle" font-size="27.8" fill="#1d1718" font-weight="normal" y="444.4" x="985.26 999.58 1015.28">350</text>
<text text-anchor="middle" font-size="27.8" fill="#1d1718" font-weight="normal" transform="translate(972.47 444.4) scale(0.7 1)" x="0" y="0">1</text>
<rect x="1127.7" y="389" width="3" height="28.6" fill="#150e0f"/>
<text text-anchor="middle" font-size="27.8" fill="#1d1718" font-weight="normal" y="444.4" x="1117.84 1133.18 1149.9">360</text>
<text text-anchor="middle" font-size="27.8" fill="#1d1718" font-weight="normal" transform="translate(1105.06 444.4) scale(0.7 1)" x="0" y="0">1</text>
<rect x="1261.3" y="389" width="3" height="28.6" fill="#150e0f"/>
<text text-anchor="middle" font-size="27.8" fill="#1d1718" font-weight="normal" y="444.4" x="1252.74 1266.78 1282.2">370</text>
<text text-anchor="middle" font-size="27.8" fill="#1d1718" font-weight="normal" transform="translate(1239.95 444.4) scale(0.7 1)" x="0" y="0">1</text>
<rect x="1394.9" y="389" width="3" height="28.6" fill="#150e0f"/>
<text text-anchor="middle" font-size="27.8" fill="#1d1718" font-weight="normal" y="444.4" x="1385.04 1400.38 1417.1">380</text>
<text text-anchor="middle" font-size="27.8" fill="#1d1718" font-weight="normal" transform="translate(1372.26 444.4) scale(0.7 1)" x="0" y="0">1</text>
<rect x="0" y="755.1" width="1539" height="4" fill="#150e0f"/>
<rect x="95.2" y="757.1" width="3" height="29.2" fill="#150e0f"/>
<text text-anchor="middle" font-size="28.6" fill="#1d1718" font-weight="normal" y="814.3" x="85.02 100.79 117.99">390</text>
<text text-anchor="middle" font-size="28.6" fill="#1d1718" font-weight="normal" transform="translate(71.86 814.3) scale(0.7 1)" x="0" y="0">1</text>
<rect x="258.9" y="757.1" width="3" height="29.2" fill="#150e0f"/>
<text text-anchor="middle" font-size="28.6" fill="#1d1718" font-weight="normal" y="814.3" x="248.33 265.53 283.12">400</text>
<text text-anchor="middle" font-size="28.6" fill="#1d1718" font-weight="normal" transform="translate(234.13 814.3) scale(0.7 1)" x="0" y="0">1</text>
<rect x="422.6" y="757.1" width="3" height="29.2" fill="#150e0f"/>
<text text-anchor="middle" font-size="28.6" fill="#1d1718" font-weight="normal" y="814.3" x="415.31 443.55">40</text>
<text text-anchor="middle" font-size="28.6" fill="#1d1718" font-weight="normal" transform="translate(401.11 814.3) scale(0.7 1)" x="0" y="0">1</text>
<text text-anchor="middle" font-size="28.6" fill="#1d1718" font-weight="normal" transform="translate(428.97 814.3) scale(0.7 1)" x="0" y="0">1</text>
<rect x="586.3" y="757.1" width="3" height="29.2" fill="#150e0f"/>
<text text-anchor="middle" font-size="28.6" fill="#1d1718" font-weight="normal" y="814.3" x="577.16 592.93 609.09">420</text>
<text text-anchor="middle" font-size="28.6" fill="#1d1718" font-weight="normal" transform="translate(562.96 814.3) scale(0.7 1)" x="0" y="0">1</text>
<rect x="750" y="757.1" width="3" height="29.2" fill="#150e0f"/>
<text text-anchor="middle" font-size="28.6" fill="#1d1718" font-weight="normal" y="814.3" x="740.86 756.63 772.79">430</text>
<text text-anchor="middle" font-size="28.6" fill="#1d1718" font-weight="normal" transform="translate(726.66 814.3) scale(0.7 1)" x="0" y="0">1</text>
<rect x="913.7" y="757.1" width="3" height="29.2" fill="#150e0f"/>
<text text-anchor="middle" font-size="28.6" fill="#1d1718" font-weight="normal" y="814.3" x="903.52 920.33 937.54">440</text>
<text text-anchor="middle" font-size="28.6" fill="#1d1718" font-weight="normal" transform="translate(889.32 814.3) scale(0.7 1)" x="0" y="0">1</text>
<rect x="1077.4" y="757.1" width="3" height="29.2" fill="#150e0f"/>
<text text-anchor="middle" font-size="28.6" fill="#1d1718" font-weight="normal" y="814.3" x="1068.26 1084.03 1100.19">450</text>
<text text-anchor="middle" font-size="28.6" fill="#1d1718" font-weight="normal" transform="translate(1054.06 814.3) scale(0.7 1)" x="0" y="0">1</text>
<rect x="1241.1" y="757.1" width="3" height="29.2" fill="#150e0f"/>
<text text-anchor="middle" font-size="28.6" fill="#1d1718" font-weight="normal" y="814.3" x="1230.92 1247.73 1264.94">460</text>
<text text-anchor="middle" font-size="28.6" fill="#1d1718" font-weight="normal" transform="translate(1216.72 814.3) scale(0.7 1)" x="0" y="0">1</text>
<rect x="1404.8" y="757.1" width="3" height="29.2" fill="#150e0f"/>
<text text-anchor="middle" font-size="28.6" fill="#1d1718" font-weight="normal" y="814.3" x="1395.95 1411.43 1427.31">470</text>
<text text-anchor="middle" font-size="28.6" fill="#1d1718" font-weight="normal" transform="translate(1381.75 814.3) scale(0.7 1)" x="0" y="0">1</text>
<rect x="0" y="1467.5" width="1539" height="4" fill="#150e0f"/>
<rect x="87.7" y="1469.5" width="3" height="29.5" fill="#150e0f"/>
<text text-anchor="middle" font-size="30" fill="#1d1718" font-weight="normal" y="1527.6" x="76.94 94.59 112.63">480</text>
<text text-anchor="middle" font-size="30" fill="#1d1718" font-weight="normal" transform="translate(62.05 1527.6) scale(0.7 1)" x="0" y="0">1</text>
<rect x="259.1" y="1469.5" width="3" height="29.5" fill="#150e0f"/>
<text text-anchor="middle" font-size="30" fill="#1d1718" font-weight="normal" y="1527.6" x="248.35 265.99 284.03">490</text>
<text text-anchor="middle" font-size="30" fill="#1d1718" font-weight="normal" transform="translate(233.45 1527.6) scale(0.7 1)" x="0" y="0">1</text>
<rect x="430.5" y="1469.5" width="3" height="29.5" fill="#150e0f"/>
<text text-anchor="middle" font-size="30" fill="#1d1718" font-weight="normal" y="1527.6" x="419.34 436.29 454.74">500</text>
<text text-anchor="middle" font-size="30" fill="#1d1718" font-weight="normal" transform="translate(405.54 1527.6) scale(0.7 1)" x="0" y="0">1</text>
<rect x="601.9" y="1469.5" width="3" height="29.5" fill="#150e0f"/>
<text text-anchor="middle" font-size="30" fill="#1d1718" font-weight="normal" y="1527.6" x="594.18 622.71">50</text>
<text text-anchor="middle" font-size="30" fill="#1d1718" font-weight="normal" transform="translate(580.38 1527.6) scale(0.7 1)" x="0" y="0">1</text>
<text text-anchor="middle" font-size="30" fill="#1d1718" font-weight="normal" transform="translate(607.41 1527.6) scale(0.7 1)" x="0" y="0">1</text>
<rect x="773.3" y="1469.5" width="3" height="29.5" fill="#150e0f"/>
<text text-anchor="middle" font-size="30" fill="#1d1718" font-weight="normal" y="1527.6" x="763.64 779.09 796.04">520</text>
<text text-anchor="middle" font-size="30" fill="#1d1718" font-weight="normal" transform="translate(749.84 1527.6) scale(0.7 1)" x="0" y="0">1</text>
<rect x="944.7" y="1469.5" width="3" height="29.5" fill="#150e0f"/>
<text text-anchor="middle" font-size="30" fill="#1d1718" font-weight="normal" y="1527.6" x="935.04 950.49 967.44">530</text>
<text text-anchor="middle" font-size="30" fill="#1d1718" font-weight="normal" transform="translate(921.24 1527.6) scale(0.7 1)" x="0" y="0">1</text>
<rect x="1116.1" y="1469.5" width="3" height="29.5" fill="#150e0f"/>
<text text-anchor="middle" font-size="30" fill="#1d1718" font-weight="normal" y="1527.6" x="1105.35 1121.89 1139.94">540</text>
<text text-anchor="middle" font-size="30" fill="#1d1718" font-weight="normal" transform="translate(1091.55 1527.6) scale(0.7 1)" x="0" y="0">1</text>
<rect x="1287.5" y="1469.5" width="3" height="29.5" fill="#150e0f"/>
<text text-anchor="middle" font-size="30" fill="#1d1718" font-weight="normal" y="1527.6" x="1277.84 1293.29 1310.24">550</text>
<text text-anchor="middle" font-size="30" fill="#1d1718" font-weight="normal" transform="translate(1264.04 1527.6) scale(0.7 1)" x="0" y="0">1</text>
<rect x="1458.9" y="1469.5" width="3" height="29.5" fill="#150e0f"/>
<text text-anchor="middle" font-size="30" fill="#1d1718" font-weight="normal" y="1527.6" x="1448.14 1464.69 1482.74">560</text>
<text text-anchor="middle" font-size="30" fill="#1d1718" font-weight="normal" transform="translate(1434.35 1527.6) scale(0.7 1)" x="0" y="0">1</text>
<rect x="0" y="2119.3" width="1539" height="4" fill="#150e0f"/>
<rect x="99.3" y="2121.3" width="3" height="28.7" fill="#150e0f"/>
<text text-anchor="middle" font-size="28.2" fill="#1d1718" font-weight="normal" y="2177" x="90.59 104.83 120.48">570</text>
<text text-anchor="middle" font-size="28.2" fill="#1d1718" font-weight="normal" transform="translate(77.62 2177) scale(0.7 1)" x="0" y="0">1</text>
<rect x="261" y="2121.3" width="3" height="28.7" fill="#150e0f"/>
<text text-anchor="middle" font-size="28.2" fill="#1d1718" font-weight="normal" y="2177" x="250.98 266.53 283.49">580</text>
<text text-anchor="middle" font-size="28.2" fill="#1d1718" font-weight="normal" transform="translate(238.01 2177) scale(0.7 1)" x="0" y="0">1</text>
<rect x="422.7" y="2121.3" width="3" height="28.7" fill="#150e0f"/>
<text text-anchor="middle" font-size="28.2" fill="#1d1718" font-weight="normal" y="2177" x="412.68 428.23 445.19">590</text>
<text text-anchor="middle" font-size="28.2" fill="#1d1718" font-weight="normal" transform="translate(399.71 2177) scale(0.7 1)" x="0" y="0">1</text>
<rect x="584.4" y="2121.3" width="3" height="28.7" fill="#150e0f"/>
<text text-anchor="middle" font-size="28.2" fill="#1d1718" font-weight="normal" y="2177" x="574 590.96 608.3">600</text>
<text text-anchor="middle" font-size="28.2" fill="#1d1718" font-weight="normal" transform="translate(560 2177) scale(0.7 1)" x="0" y="0">1</text>
<rect x="746.1" y="2121.3" width="3" height="28.7" fill="#150e0f"/>
<text text-anchor="middle" font-size="28.2" fill="#1d1718" font-weight="normal" y="2177" x="738.93 766.78">60</text>
<text text-anchor="middle" font-size="28.2" fill="#1d1718" font-weight="normal" transform="translate(724.93 2177) scale(0.7 1)" x="0" y="0">1</text>
<text text-anchor="middle" font-size="28.2" fill="#1d1718" font-weight="normal" transform="translate(752.4 2177) scale(0.7 1)" x="0" y="0">1</text>
<rect x="907.8" y="2121.3" width="3" height="28.7" fill="#150e0f"/>
<text text-anchor="middle" font-size="28.2" fill="#1d1718" font-weight="normal" y="2177" x="898.81 914.36 930.29">620</text>
<text text-anchor="middle" font-size="28.2" fill="#1d1718" font-weight="normal" transform="translate(884.81 2177) scale(0.7 1)" x="0" y="0">1</text>
<rect x="1069.5" y="2121.3" width="3" height="28.7" fill="#150e0f"/>
<text text-anchor="middle" font-size="28.2" fill="#1d1718" font-weight="normal" y="2177" x="1060.51 1076.06 1091.99">630</text>
<text text-anchor="middle" font-size="28.2" fill="#1d1718" font-weight="normal" transform="translate(1046.51 2177) scale(0.7 1)" x="0" y="0">1</text>
<rect x="1231.2" y="2121.3" width="3" height="28.7" fill="#150e0f"/>
<text text-anchor="middle" font-size="28.2" fill="#1d1718" font-weight="normal" y="2177" x="1221.18 1237.76 1254.72">640</text>
<text text-anchor="middle" font-size="28.2" fill="#1d1718" font-weight="normal" transform="translate(1207.18 2177) scale(0.7 1)" x="0" y="0">1</text>
<rect x="1392.9" y="2121.3" width="3" height="28.7" fill="#150e0f"/>
<text text-anchor="middle" font-size="28.2" fill="#1d1718" font-weight="normal" y="2177" x="1383.91 1399.46 1415.39">650</text>
<text text-anchor="middle" font-size="28.2" fill="#1d1718" font-weight="normal" transform="translate(1369.91 2177) scale(0.7 1)" x="0" y="0">1</text>
<rect x="0" y="2636.3" width="1539" height="4" fill="#150e0f"/>
<rect x="98" y="2638.3" width="3" height="27.4" fill="#150e0f"/>
<text text-anchor="middle" font-size="28.2" fill="#1d1718" font-weight="normal" y="2690.8" x="87.98 104.56 121.52">660</text>
<text text-anchor="middle" font-size="28.2" fill="#1d1718" font-weight="normal" transform="translate(73.98 2690.8) scale(0.7 1)" x="0" y="0">1</text>
<rect x="244.8" y="2638.3" width="3" height="27.4" fill="#150e0f"/>
<text text-anchor="middle" font-size="28.2" fill="#1d1718" font-weight="normal" y="2690.8" x="236.09 251.36 267.01">670</text>
<text text-anchor="middle" font-size="28.2" fill="#1d1718" font-weight="normal" transform="translate(222.09 2690.8) scale(0.7 1)" x="0" y="0">1</text>
<rect x="391.6" y="2638.3" width="3" height="27.4" fill="#150e0f"/>
<text text-anchor="middle" font-size="28.2" fill="#1d1718" font-weight="normal" y="2690.8" x="381.58 398.16 415.12">680</text>
<text text-anchor="middle" font-size="28.2" fill="#1d1718" font-weight="normal" transform="translate(367.58 2690.8) scale(0.7 1)" x="0" y="0">1</text>
<rect x="538.4" y="2638.3" width="3" height="27.4" fill="#150e0f"/>
<text text-anchor="middle" font-size="28.2" fill="#1d1718" font-weight="normal" y="2690.8" x="528.38 544.96 561.92">690</text>
<text text-anchor="middle" font-size="28.2" fill="#1d1718" font-weight="normal" transform="translate(514.38 2690.8) scale(0.7 1)" x="0" y="0">1</text>
<rect x="685.2" y="2638.3" width="3" height="27.4" fill="#150e0f"/>
<text text-anchor="middle" font-size="28.2" fill="#1d1718" font-weight="normal" y="2690.8" x="674.8 690.45 707.79">700</text>
<text text-anchor="middle" font-size="28.2" fill="#1d1718" font-weight="normal" transform="translate(662.11 2690.8) scale(0.7 1)" x="0" y="0">1</text>
<rect x="832" y="2638.3" width="3" height="27.4" fill="#150e0f"/>
<text text-anchor="middle" font-size="28.2" fill="#1d1718" font-weight="normal" y="2690.8" x="824.83 851.36">70</text>
<text text-anchor="middle" font-size="28.2" fill="#1d1718" font-weight="normal" transform="translate(812.14 2690.8) scale(0.7 1)" x="0" y="0">1</text>
<text text-anchor="middle" font-size="28.2" fill="#1d1718" font-weight="normal" transform="translate(836.99 2690.8) scale(0.7 1)" x="0" y="0">1</text>
<rect x="978.8" y="2638.3" width="3" height="27.4" fill="#150e0f"/>
<text text-anchor="middle" font-size="28.2" fill="#1d1718" font-weight="normal" y="2690.8" x="969.81 984.05 999.98">720</text>
<text text-anchor="middle" font-size="28.2" fill="#1d1718" font-weight="normal" transform="translate(957.12 2690.8) scale(0.7 1)" x="0" y="0">1</text>
<rect x="1125.6" y="2638.3" width="3" height="27.4" fill="#150e0f"/>
<text text-anchor="middle" font-size="28.2" fill="#1d1718" font-weight="normal" y="2690.8" x="1116.61 1130.85 1146.78">730</text>
<text text-anchor="middle" font-size="28.2" fill="#1d1718" font-weight="normal" transform="translate(1103.92 2690.8) scale(0.7 1)" x="0" y="0">1</text>
<rect x="1272.4" y="2638.3" width="3" height="27.4" fill="#150e0f"/>
<text text-anchor="middle" font-size="28.2" fill="#1d1718" font-weight="normal" y="2690.8" x="1262.38 1277.65 1294.61">740</text>
<text text-anchor="middle" font-size="28.2" fill="#1d1718" font-weight="normal" transform="translate(1249.69 2690.8) scale(0.7 1)" x="0" y="0">1</text>
<rect x="1419.2" y="2638.3" width="3" height="27.4" fill="#150e0f"/>
<text text-anchor="middle" font-size="28.2" fill="#1d1718" font-weight="normal" y="2690.8" x="1410.21 1424.45 1440.38">750</text>
<text text-anchor="middle" font-size="28.2" fill="#1d1718" font-weight="normal" transform="translate(1397.52 2690.8) scale(0.7 1)" x="0" y="0">1</text>
<rect x="0" y="2963.6" width="1354.5" height="4" fill="#150e0f"/>
<rect x="91.3" y="2965.6" width="3" height="26.7" fill="#150e0f"/>
<text text-anchor="middle" font-size="27.8" fill="#1d1718" font-weight="normal" y="3017.5" x="81.44 96.5 113.22">760</text>
<text text-anchor="middle" font-size="27.8" fill="#1d1718" font-weight="normal" transform="translate(68.94 3017.5) scale(0.7 1)" x="0" y="0">1</text>
<rect x="231.3" y="2965.6" width="3" height="26.7" fill="#150e0f"/>
<text text-anchor="middle" font-size="27.8" fill="#1d1718" font-weight="normal" y="3017.5" x="222.74 236.5 251.93">770</text>
<text text-anchor="middle" font-size="27.8" fill="#1d1718" font-weight="normal" transform="translate(210.23 3017.5) scale(0.7 1)" x="0" y="0">1</text>
<rect x="371.3" y="2965.6" width="3" height="26.7" fill="#150e0f"/>
<text text-anchor="middle" font-size="27.8" fill="#1d1718" font-weight="normal" y="3017.5" x="361.44 376.5 393.22">780</text>
<text text-anchor="middle" font-size="27.8" fill="#1d1718" font-weight="normal" transform="translate(348.94 3017.5) scale(0.7 1)" x="0" y="0">1</text>
<rect x="511.3" y="2965.6" width="3" height="26.7" fill="#150e0f"/>
<text text-anchor="middle" font-size="27.8" fill="#1d1718" font-weight="normal" y="3017.5" x="501.44 516.5 533.22">790</text>
<text text-anchor="middle" font-size="27.8" fill="#1d1718" font-weight="normal" transform="translate(488.94 3017.5) scale(0.7 1)" x="0" y="0">1</text>
<rect x="651.3" y="2965.6" width="3" height="26.7" fill="#150e0f"/>
<text text-anchor="middle" font-size="27.8" fill="#1d1718" font-weight="normal" y="3017.5" x="641.07 657.79 674.89">800</text>
<text text-anchor="middle" font-size="27.8" fill="#1d1718" font-weight="normal" transform="translate(627.27 3017.5) scale(0.7 1)" x="0" y="0">1</text>
<rect x="791.3" y="2965.6" width="3" height="26.7" fill="#150e0f"/>
<text text-anchor="middle" font-size="27.8" fill="#1d1718" font-weight="normal" y="3017.5" x="784.25 811.7">80</text>
<text text-anchor="middle" font-size="27.8" fill="#1d1718" font-weight="normal" transform="translate(770.45 3017.5) scale(0.7 1)" x="0" y="0">1</text>
<text text-anchor="middle" font-size="27.8" fill="#1d1718" font-weight="normal" transform="translate(797.53 3017.5) scale(0.7 1)" x="0" y="0">1</text>
<rect x="931.3" y="2965.6" width="3" height="26.7" fill="#150e0f"/>
<text text-anchor="middle" font-size="27.8" fill="#1d1718" font-weight="normal" y="3017.5" x="922.46 937.79 953.5">820</text>
<text text-anchor="middle" font-size="27.8" fill="#1d1718" font-weight="normal" transform="translate(908.66 3017.5) scale(0.7 1)" x="0" y="0">1</text>
<rect x="1071.3" y="2965.6" width="3" height="26.7" fill="#150e0f"/>
<text text-anchor="middle" font-size="27.8" fill="#1d1718" font-weight="normal" y="3017.5" x="1062.46 1077.79 1093.5">830</text>
<text text-anchor="middle" font-size="27.8" fill="#1d1718" font-weight="normal" transform="translate(1048.66 3017.5) scale(0.7 1)" x="0" y="0">1</text>
<rect x="1211.3" y="2965.6" width="3" height="26.7" fill="#150e0f"/>
<text text-anchor="middle" font-size="27.8" fill="#1d1718" font-weight="normal" y="3017.5" x="1201.44 1217.79 1234.51">840</text>
<text text-anchor="middle" font-size="27.8" fill="#1d1718" font-weight="normal" transform="translate(1187.64 3017.5) scale(0.7 1)" x="0" y="0">1</text>
<rect x="1351.3" y="2965.6" width="3" height="26.7" fill="#150e0f"/>
<g stroke="#1d1718" stroke-width="0.4" stroke-linejoin="round">
<text text-anchor="middle" font-size="27.6" fill="#1d1718" font-weight="bold" y="3017.7" x="1341.78 1357.5 1373.6">850</text>
<text text-anchor="middle" font-size="27.6" fill="#1d1718" font-weight="bold" transform="translate(1327.49 3017.7) scale(0.74 1)" x="0" y="0">1</text>
</g>
<path d="M326.7 163.8 L328.5 163.8 Q329.3 170.5 336.5 171.85 L336.5 173.75 Q330.3 174.7 329.95 177.65 C329.95 189.69 348.05 204.4 362.85 204.4 L362.85 241.4 A34.05 34 0 0 0 328.8 275.4 A34.05 34 0 0 0 362.85 309.4 L362.85 347 A33.65 33.9 0 0 0 329.2 380.9 L326 380.9 A33.65 33.9 0 0 0 292.35 347 L292.35 309.4 A34.05 34 0 0 0 326.4 275.4 A34.05 34 0 0 0 292.35 241.4 L292.35 204.4 C307.16 204.4 325.25 189.69 325.25 177.65 Q324.9 174.7 318.7 173.75 L318.7 171.85 Q325.9 170.5 326.7 163.8 Z" fill="#150e0f"/>
<text text-anchor="middle" font-size="29" fill="#b7cdc8" font-weight="normal" y="231.08" x="318.82 336.38">84</text>
<text text-anchor="middle" font-size="29" fill="#ee5a7c" font-weight="normal" y="337.68" x="318.82 335.29">38</text>
<path d="M460.3 159.5 L462.1 159.5 Q462.9 166.2 470.1 167.55 L470.1 169.45 Q463.9 170.4 463.55 173.35 C463.55 185.39 481.65 200.1 496.45 200.1 L496.45 237.1 A34.05 34 0 0 0 462.4 271.1 A34.05 34 0 0 0 496.45 305.1 L496.45 342.7 A33.65 33.9 0 0 0 462.8 376.6 L459.6 376.6 A33.65 33.9 0 0 0 425.95 342.7 L425.95 305.1 A34.05 34 0 0 0 460 271.1 A34.05 34 0 0 0 425.95 237.1 L425.95 200.1 C440.76 200.1 458.85 185.39 458.85 173.35 Q458.5 170.4 452.3 169.45 L452.3 167.55 Q459.5 166.2 460.3 159.5 Z" fill="#150e0f"/>
<text text-anchor="middle" font-size="29" fill="#b7cdc8" font-weight="normal" y="232.28" x="472.73">6</text>
<text text-anchor="middle" font-size="29" fill="#b7cdc8" font-weight="normal" transform="translate(446.38 232.28) scale(0.7 1)" x="0" y="0">1</text>
<text text-anchor="middle" font-size="29" fill="#b7cdc8" font-weight="normal" transform="translate(457.91 232.28) scale(0.7 1)" x="0" y="0">1</text>
<text text-anchor="middle" font-size="29" fill="#ee5a7c" font-weight="normal" y="337.78" x="459.27 476.15">02</text>
<text text-anchor="middle" font-size="29" fill="#ee5a7c" font-weight="normal" transform="translate(444.05 337.78) scale(0.7 1)" x="0" y="0">1</text>
<path d="M593.9 161.7 L595.7 161.7 Q596.5 168.4 603.7 169.75 L603.7 171.65 Q597.5 172.6 597.15 175.55 C597.15 187.59 615.25 202.3 630.05 202.3 L630.05 239.3 A34.05 34 0 0 0 596 273.3 A34.05 34 0 0 0 630.05 307.3 L630.05 344.9 A33.65 33.9 0 0 0 596.4 378.8 L593.2 378.8 A33.65 33.9 0 0 0 559.55 344.9 L559.55 307.3 A34.05 34 0 0 0 593.6 273.3 A34.05 34 0 0 0 559.55 239.3 L559.55 202.3 C574.35 202.3 592.45 187.59 592.45 175.55 Q592.1 172.6 585.9 171.65 L585.9 169.75 Q593.1 168.4 593.9 161.7 Z" fill="#150e0f"/>
<text text-anchor="middle" font-size="29" fill="#b7cdc8" font-weight="normal" y="231.88" x="589.04">7</text>
<text text-anchor="middle" font-size="29" fill="#b7cdc8" font-weight="normal" transform="translate(601.92 231.88) scale(0.7 1)" x="0" y="0">1</text>
<text text-anchor="middle" font-size="29" fill="#ee5a7c" font-weight="normal" y="337.58" x="594.8">5</text>
<path d="M727.5 162.7 L729.3 162.7 Q730.1 169.4 737.3 170.75 L737.3 172.65 Q731.1 173.6 730.75 176.55 C730.75 188.59 748.85 203.3 763.65 203.3 L763.65 240.3 A34.05 34 0 0 0 729.6 274.3 A34.05 34 0 0 0 763.65 308.3 L763.65 345.9 A33.65 33.9 0 0 0 730 379.8 L726.8 379.8 A33.65 33.9 0 0 0 693.15 345.9 L693.15 308.3 A34.05 34 0 0 0 727.2 274.3 A34.05 34 0 0 0 693.15 240.3 L693.15 203.3 C707.95 203.3 726.05 188.59 726.05 176.55 Q725.7 173.6 719.5 172.65 L719.5 170.75 Q726.7 169.4 727.5 162.7 Z" fill="#150e0f"/>
<text text-anchor="middle" font-size="29" fill="#b7cdc8" font-weight="normal" y="232.18" x="720.71 736.09">53</text>
<text text-anchor="middle" font-size="29" fill="#ee5a7c" font-weight="normal" y="339.28" x="720.71 736.09">23</text>
<path d="M861.1 166.5 L862.9 166.5 Q863.7 173.2 870.9 174.55 L870.9 176.45 Q864.7 177.4 864.35 180.35 C864.35 192.39 882.45 207.1 897.25 207.1 L897.25 244.1 A34.05 34 0 0 0 863.2 278.1 A34.05 34 0 0 0 897.25 312.1 L897.25 349.7 A33.65 33.9 0 0 0 863.6 383.6 L860.4 383.6 A33.65 33.9 0 0 0 826.75 349.7 L826.75 312.1 A34.05 34 0 0 0 860.8 278.1 A34.05 34 0 0 0 826.75 244.1 L826.75 207.1 C841.55 207.1 859.65 192.39 859.65 180.35 Q859.3 177.4 853.1 176.45 L853.1 174.55 Q860.3 173.2 861.1 166.5 Z" fill="#150e0f"/>
<text text-anchor="middle" font-size="29" fill="#b7cdc8" font-weight="normal" y="235.98" x="862">9</text>
<text text-anchor="middle" font-size="29" fill="#ee5a7c" font-weight="normal" y="341.48" x="862">0</text>
<path d="M994.7 165.9 L996.5 165.9 Q997.3 172.6 1004.5 173.95 L1004.5 175.85 Q998.3 176.8 997.95 179.75 C997.95 191.79 1016.04 206.5 1030.85 206.5 L1030.85 243.5 A34.05 34 0 0 0 996.8 277.5 A34.05 34 0 0 0 1030.85 311.5 L1030.85 349.1 A33.65 33.9 0 0 0 997.2 383 L994 383 A33.65 33.9 0 0 0 960.35 349.1 L960.35 311.5 A34.05 34 0 0 0 994.4 277.5 A34.05 34 0 0 0 960.35 243.5 L960.35 206.5 C975.15 206.5 993.25 191.79 993.25 179.75 Q992.9 176.8 986.7 175.85 L986.7 173.95 Q993.9 172.6 994.7 165.9 Z" fill="#150e0f"/>
<text text-anchor="middle" font-size="29" fill="#b7cdc8" font-weight="normal" y="235.38" x="1001.36">5</text>
<text text-anchor="middle" font-size="29" fill="#b7cdc8" font-weight="normal" transform="translate(987.64 235.38) scale(0.7 1)" x="0" y="0">1</text>
<text text-anchor="middle" font-size="29" fill="#ee5a7c" font-weight="normal" y="340.88" x="995.6">0</text>
<path d="M1128.3 167.4 L1130.1 167.4 Q1130.9 174.1 1138.1 175.45 L1138.1 177.35 Q1131.9 178.3 1131.55 181.25 C1131.55 193.29 1149.64 208 1164.45 208 L1164.45 245 A34.05 34 0 0 0 1130.4 279 A34.05 34 0 0 0 1164.45 313 L1164.45 350.6 A33.65 33.9 0 0 0 1130.8 384.5 L1127.6 384.5 A33.65 33.9 0 0 0 1093.95 350.6 L1093.95 313 A34.05 34 0 0 0 1128 279 A34.05 34 0 0 0 1093.95 245 L1093.95 208 C1108.75 208 1126.85 193.29 1126.85 181.25 Q1126.5 178.3 1120.3 177.35 L1120.3 175.45 Q1127.5 174.1 1128.3 167.4 Z" fill="#150e0f"/>
<text text-anchor="middle" font-size="29" fill="#b7cdc8" font-weight="normal" y="236.88" x="1134.96">2</text>
<text text-anchor="middle" font-size="29" fill="#b7cdc8" font-weight="normal" transform="translate(1121.24 236.88) scale(0.7 1)" x="0" y="0">1</text>
<text text-anchor="middle" font-size="29" fill="#ee5a7c" font-weight="normal" transform="translate(1128.93 342.18) scale(0.7 1)" x="0" y="0">1</text>
<path d="M1261.9 164.3 L1263.7 164.3 Q1264.5 171 1271.7 172.35 L1271.7 174.25 Q1265.5 175.2 1265.15 178.15 C1265.15 190.19 1283.24 204.9 1298.05 204.9 L1298.05 241.9 A34.05 34 0 0 0 1264 275.9 A34.05 34 0 0 0 1298.05 309.9 L1298.05 347.5 A33.65 33.9 0 0 0 1264.4 381.4 L1261.2 381.4 A33.65 33.9 0 0 0 1227.55 347.5 L1227.55 309.9 A34.05 34 0 0 0 1261.6 275.9 A34.05 34 0 0 0 1227.55 241.9 L1227.55 204.9 C1242.36 204.9 1260.45 190.19 1260.45 178.15 Q1260.1 175.2 1253.9 174.25 L1253.9 172.35 Q1261.1 171 1261.9 164.3 Z" fill="#150e0f"/>
<text text-anchor="middle" font-size="29" fill="#b7cdc8" font-weight="normal" y="235.98" x="1253.61 1270.49">30</text>
<text text-anchor="middle" font-size="29" fill="#ee5a7c" font-weight="normal" y="339.08" x="1262.8">5</text>
<path d="M1395.5 164.3 L1397.3 164.3 Q1398.1 171 1405.3 172.35 L1405.3 174.25 Q1399.1 175.2 1398.75 178.15 C1398.75 190.19 1416.85 204.9 1431.65 204.9 L1431.65 241.9 A34.05 34 0 0 0 1397.6 275.9 A34.05 34 0 0 0 1431.65 309.9 L1431.65 347.5 A33.65 33.9 0 0 0 1398 381.4 L1394.8 381.4 A33.65 33.9 0 0 0 1361.15 347.5 L1361.15 309.9 A34.05 34 0 0 0 1395.2 275.9 A34.05 34 0 0 0 1361.15 241.9 L1361.15 204.9 C1375.96 204.9 1394.05 190.19 1394.05 178.15 Q1393.7 175.2 1387.5 174.25 L1387.5 172.35 Q1394.7 171 1395.5 164.3 Z" fill="#150e0f"/>
<text text-anchor="middle" font-size="29" fill="#b7cdc8" font-weight="normal" y="233.78" x="1390.64">3</text>
<text text-anchor="middle" font-size="29" fill="#b7cdc8" font-weight="normal" transform="translate(1403.82 233.78) scale(0.7 1)" x="0" y="0">1</text>
<text text-anchor="middle" font-size="29" fill="#ee5a7c" font-weight="normal" y="339.68" x="1396.4">2</text>
<path d="M95.8 526.4 L97.6 526.4 Q98.4 533.1 105.6 534.45 L105.6 536.35 Q99.4 537.3 99.05 540.25 C99.05 552.87 117.78 568.3 133.1 568.3 L133.1 606.1 A35.2 35.4 0 0 0 97.9 641.5 A35.2 35.4 0 0 0 133.1 676.9 L133.1 714.9 A34.8 35 0 0 0 98.3 749.9 L95.1 749.9 A34.8 35 0 0 0 60.3 714.9 L60.3 676.9 A35.2 35.4 0 0 0 95.5 641.5 A35.2 35.4 0 0 0 60.3 606.1 L60.3 568.3 C75.62 568.3 94.35 552.87 94.35 540.25 Q94 537.3 87.8 536.35 L87.8 534.45 Q95 533.1 95.8 526.4 Z" fill="#150e0f"/>
<text text-anchor="middle" font-size="30" fill="#b7cdc8" font-weight="normal" y="597.74" x="87.62 104.66">38</text>
<text text-anchor="middle" font-size="30" fill="#ee5a7c" font-weight="normal" y="706.44" x="102.66">4</text>
<text text-anchor="middle" font-size="30" fill="#ee5a7c" font-weight="normal" transform="translate(87.33 706.44) scale(0.7 1)" x="0" y="0">1</text>
<path d="M259.5 513.5 L261.3 513.5 Q262.1 520.2 269.3 521.55 L269.3 523.45 Q263.1 524.4 262.75 527.35 C262.75 539.97 281.48 555.4 296.8 555.4 L296.8 593.2 A35.2 35.4 0 0 0 261.6 628.6 A35.2 35.4 0 0 0 296.8 664 L296.8 702 A34.8 35 0 0 0 262 737 L258.8 737 A34.8 35 0 0 0 224 702 L224 664 A35.2 35.4 0 0 0 259.2 628.6 A35.2 35.4 0 0 0 224 593.2 L224 555.4 C239.32 555.4 258.05 539.97 258.05 527.35 Q257.7 524.4 251.5 523.45 L251.5 521.55 Q258.7 520.2 259.5 513.5 Z" fill="#150e0f"/>
<text text-anchor="middle" font-size="30" fill="#b7cdc8" font-weight="normal" y="584.84" x="242.94 260.4 277.86">202</text>
<text text-anchor="middle" font-size="30" fill="#ee5a7c" font-weight="normal" y="693.54" x="251.32 268.36">54</text>
<path d="M423.2 515 L425 515 Q425.8 521.7 433 523.05 L433 524.95 Q426.8 525.9 426.45 528.85 C426.45 541.47 445.18 556.9 460.5 556.9 L460.5 594.7 A35.2 35.4 0 0 0 425.3 630.1 A35.2 35.4 0 0 0 460.5 665.5 L460.5 703.5 A34.8 35 0 0 0 425.7 738.5 L422.5 738.5 A34.8 35 0 0 0 387.7 703.5 L387.7 665.5 A35.2 35.4 0 0 0 422.9 630.1 A35.2 35.4 0 0 0 387.7 594.7 L387.7 556.9 C403.02 556.9 421.75 541.47 421.75 528.85 Q421.4 525.9 415.2 524.95 L415.2 523.05 Q422.4 521.7 423.2 515 Z" fill="#150e0f"/>
<text text-anchor="middle" font-size="30" fill="#b7cdc8" font-weight="normal" y="586.34" x="424.1">8</text>
<text text-anchor="middle" font-size="30" fill="#b7cdc8" font-weight="normal" transform="translate(408.77 586.34) scale(0.7 1)" x="0" y="0">1</text>
<text text-anchor="middle" font-size="30" fill="#b7cdc8" font-weight="normal" transform="translate(438.87 586.34) scale(0.7 1)" x="0" y="0">1</text>
<text text-anchor="middle" font-size="30" fill="#ee5a7c" font-weight="normal" y="695.04" x="415.02 433.18">46</text>
<path d="M586.9 486.5 L588.7 486.5 Q589.5 493.2 596.7 494.55 L596.7 496.45 Q590.5 497.4 590.15 500.35 C590.15 512.97 608.88 528.4 624.2 528.4 L624.2 566.2 A35.2 35.4 0 0 0 589 601.6 A35.2 35.4 0 0 0 624.2 637 L624.2 675 A34.8 35 0 0 0 589.4 710 L586.2 710 A34.8 35 0 0 0 551.4 675 L551.4 637 A35.2 35.4 0 0 0 586.6 601.6 A35.2 35.4 0 0 0 551.4 566.2 L551.4 528.4 C566.72 528.4 585.45 512.97 585.45 500.35 Q585.1 497.4 578.9 496.45 L578.9 494.55 Q586.1 493.2 586.9 486.5 Z" fill="#150e0f"/>
<text text-anchor="middle" font-size="30" fill="#b7cdc8" font-weight="normal" y="557.84" x="572.75 589.79">56</text>
<text text-anchor="middle" font-size="30" fill="#b7cdc8" font-weight="normal" transform="translate(604.56 557.84) scale(0.7 1)" x="0" y="0">1</text>
<text text-anchor="middle" font-size="30" fill="#ee5a7c" font-weight="normal" y="666.54" x="573.88 590.92">42</text>
<text text-anchor="middle" font-size="30" fill="#ee5a7c" font-weight="normal" transform="translate(604.56 666.54) scale(0.7 1)" x="0" y="0">1</text>
<path d="M750.6 509.3 L752.4 509.3 Q753.2 516 760.4 517.35 L760.4 519.25 Q754.2 520.2 753.85 523.15 C753.85 535.77 772.58 551.2 787.9 551.2 L787.9 589 A35.2 35.4 0 0 0 752.7 624.4 A35.2 35.4 0 0 0 787.9 659.8 L787.9 697.8 A34.8 35 0 0 0 753.1 732.8 L749.9 732.8 A34.8 35 0 0 0 715.1 697.8 L715.1 659.8 A35.2 35.4 0 0 0 750.3 624.4 A35.2 35.4 0 0 0 715.1 589 L715.1 551.2 C730.42 551.2 749.15 535.77 749.15 523.15 Q748.8 520.2 742.6 519.25 L742.6 517.35 Q749.8 516 750.6 509.3 Z" fill="#150e0f"/>
<text text-anchor="middle" font-size="30" fill="#b7cdc8" font-weight="normal" y="580.64" x="733.33 750.37 768.54">249</text>
<text text-anchor="middle" font-size="30" fill="#ee5a7c" font-weight="normal" y="689.34" x="742.42 759.15">78</text>
<path d="M914.3 509.3 L916.1 509.3 Q916.9 516 924.1 517.35 L924.1 519.25 Q917.9 520.2 917.55 523.15 C917.55 535.77 936.28 551.2 951.6 551.2 L951.6 589 A35.2 35.4 0 0 0 916.4 624.4 A35.2 35.4 0 0 0 951.6 659.8 L951.6 697.8 A34.8 35 0 0 0 916.8 732.8 L913.6 732.8 A34.8 35 0 0 0 878.8 697.8 L878.8 659.8 A35.2 35.4 0 0 0 914 624.4 A35.2 35.4 0 0 0 878.8 589 L878.8 551.2 C894.12 551.2 912.85 535.77 912.85 523.15 Q912.5 520.2 906.3 519.25 L906.3 517.35 Q913.5 516 914.3 509.3 Z" fill="#150e0f"/>
<text text-anchor="middle" font-size="30" fill="#b7cdc8" font-weight="normal" y="580.64" x="899.29 915.2 931.11">255</text>
<text text-anchor="middle" font-size="30" fill="#ee5a7c" font-weight="normal" y="689.34" x="907.55 924.28">87</text>
<path d="M1078 512.4 L1079.8 512.4 Q1080.6 519.1 1087.8 520.45 L1087.8 522.35 Q1081.6 523.3 1081.25 526.25 C1081.25 538.87 1099.98 554.3 1115.3 554.3 L1115.3 592.1 A35.2 35.4 0 0 0 1080.1 627.5 A35.2 35.4 0 0 0 1115.3 662.9 L1115.3 700.9 A34.8 35 0 0 0 1080.5 735.9 L1077.3 735.9 A34.8 35 0 0 0 1042.5 700.9 L1042.5 662.9 A35.2 35.4 0 0 0 1077.7 627.5 A35.2 35.4 0 0 0 1042.5 592.1 L1042.5 554.3 C1057.82 554.3 1076.55 538.87 1076.55 526.25 Q1076.2 523.3 1070 522.35 L1070 520.45 Q1077.2 519.1 1078 512.4 Z" fill="#150e0f"/>
<text text-anchor="middle" font-size="30" fill="#b7cdc8" font-weight="normal" y="583.74" x="1061.86 1077.77 1094.81">234</text>
<text text-anchor="middle" font-size="30" fill="#ee5a7c" font-weight="normal" y="692.44" x="1070.94 1086.55">75</text>
<path d="M1241.7 520.4 L1243.5 520.4 Q1244.3 527.1 1251.5 528.45 L1251.5 530.35 Q1245.3 531.3 1244.95 534.25 C1244.95 546.87 1263.68 562.3 1279 562.3 L1279 600.1 A35.2 35.4 0 0 0 1243.8 635.5 A35.2 35.4 0 0 0 1279 670.9 L1279 708.9 A34.8 35 0 0 0 1244.2 743.9 L1241 743.9 A34.8 35 0 0 0 1206.2 708.9 L1206.2 670.9 A35.2 35.4 0 0 0 1241.4 635.5 A35.2 35.4 0 0 0 1206.2 600.1 L1206.2 562.3 C1221.52 562.3 1240.25 546.87 1240.25 534.25 Q1239.9 531.3 1233.7 530.35 L1233.7 528.45 Q1240.9 527.1 1241.7 520.4 Z" fill="#150e0f"/>
<text text-anchor="middle" font-size="30" fill="#b7cdc8" font-weight="normal" y="591.74" x="1239.06 1256.52">20</text>
<text text-anchor="middle" font-size="30" fill="#b7cdc8" font-weight="normal" transform="translate(1224.86 591.74) scale(0.7 1)" x="0" y="0">1</text>
<text text-anchor="middle" font-size="30" fill="#ee5a7c" font-weight="normal" y="700.44" x="1233.52 1250.56">39</text>
<path d="M1405.4 517.3 L1407.2 517.3 Q1408 524 1415.2 525.35 L1415.2 527.25 Q1409 528.2 1408.65 531.15 C1408.65 543.77 1427.38 559.2 1442.7 559.2 L1442.7 597 A35.2 35.4 0 0 0 1407.5 632.4 A35.2 35.4 0 0 0 1442.7 667.8 L1442.7 705.8 A34.8 35 0 0 0 1407.9 740.8 L1404.7 740.8 A34.8 35 0 0 0 1369.9 705.8 L1369.9 667.8 A35.2 35.4 0 0 0 1405.1 632.4 A35.2 35.4 0 0 0 1369.9 597 L1369.9 559.2 C1385.22 559.2 1403.95 543.77 1403.95 531.15 Q1403.6 528.2 1397.4 527.25 L1397.4 525.35 Q1404.6 524 1405.4 517.3 Z" fill="#150e0f"/>
<text text-anchor="middle" font-size="30" fill="#b7cdc8" font-weight="normal" y="588.64" x="1404.31 1421.35">45</text>
<text text-anchor="middle" font-size="30" fill="#b7cdc8" font-weight="normal" transform="translate(1388.98 588.64) scale(0.7 1)" x="0" y="0">1</text>
<text text-anchor="middle" font-size="30" fill="#ee5a7c" font-weight="normal" y="697.34" x="1398.34 1414.26">35</text>
<path d="M88.3 1203.3 L90.1 1203.3 Q90.9 1210 98.1 1211.35 L98.1 1213.25 Q91.9 1214.2 91.55 1217.15 C91.55 1229.82 110.55 1245.3 126.1 1245.3 L126.1 1283.3 A35.7 35.9 0 0 0 90.4 1319.2 A35.7 35.9 0 0 0 126.1 1355.1 L126.1 1393.5 A35.3 35.5 0 0 0 90.8 1429 L87.6 1429 A35.3 35.5 0 0 0 52.3 1393.5 L52.3 1355.1 A35.7 35.9 0 0 0 88 1319.2 A35.7 35.9 0 0 0 52.3 1283.3 L52.3 1245.3 C67.85 1245.3 86.85 1229.82 86.85 1217.15 Q86.5 1214.2 80.3 1213.25 L80.3 1211.35 Q87.5 1210 88.3 1203.3 Z" fill="#150e0f"/>
<text text-anchor="middle" font-size="30" fill="#b7cdc8" font-weight="normal" y="1275.04" x="70.61 89.2 107.79">406</text>
<text text-anchor="middle" font-size="30" fill="#ee5a7c" font-weight="normal" y="1385.04" x="86.08 104.25">88</text>
<text text-anchor="middle" font-size="30" fill="#ee5a7c" font-weight="normal" transform="translate(70.75 1385.04) scale(0.7 1)" x="0" y="0">1</text>
<path d="M259.7 1217.8 L261.5 1217.8 Q262.3 1224.5 269.5 1225.85 L269.5 1227.75 Q263.3 1228.7 262.95 1231.65 C262.95 1244.32 281.95 1259.8 297.5 1259.8 L297.5 1297.8 A35.7 35.9 0 0 0 261.8 1333.7 A35.7 35.9 0 0 0 297.5 1369.6 L297.5 1408 A35.3 35.5 0 0 0 262.2 1443.5 L259 1443.5 A35.3 35.5 0 0 0 223.7 1408 L223.7 1369.6 A35.7 35.9 0 0 0 259.4 1333.7 A35.7 35.9 0 0 0 223.7 1297.8 L223.7 1259.8 C239.25 1259.8 258.25 1244.32 258.25 1231.65 Q257.9 1228.7 251.7 1227.75 L251.7 1225.85 Q258.9 1224.5 259.7 1217.8 Z" fill="#150e0f"/>
<text text-anchor="middle" font-size="30" fill="#b7cdc8" font-weight="normal" y="1289.54" x="243.45 260.91 278.06">207</text>
<text text-anchor="middle" font-size="30" fill="#ee5a7c" font-weight="normal" y="1399.54" x="251.52 269.68">98</text>
<path d="M431.1 1227.3 L432.9 1227.3 Q433.7 1234 440.9 1235.35 L440.9 1237.25 Q434.7 1238.2 434.35 1241.15 C434.35 1253.82 453.35 1269.3 468.9 1269.3 L468.9 1307.3 A35.7 35.9 0 0 0 433.2 1343.2 A35.7 35.9 0 0 0 468.9 1379.1 L468.9 1417.5 A35.3 35.5 0 0 0 433.6 1453 L430.4 1453 A35.3 35.5 0 0 0 395.1 1417.5 L395.1 1379.1 A35.7 35.9 0 0 0 430.8 1343.2 A35.7 35.9 0 0 0 395.1 1307.3 L395.1 1269.3 C410.65 1269.3 429.65 1253.82 429.65 1241.15 Q429.3 1238.2 423.1 1237.25 L423.1 1235.35 Q430.3 1234 431.1 1227.3 Z" fill="#150e0f"/>
<text text-anchor="middle" font-size="30" fill="#b7cdc8" font-weight="normal" y="1299.04" x="424.04 441.08">85</text>
<text text-anchor="middle" font-size="30" fill="#ee5a7c" font-weight="normal" y="1409.04" x="422.92 439.96">38</text>
<path d="M602.5 1226.2 L604.3 1226.2 Q605.1 1232.9 612.3 1234.25 L612.3 1236.15 Q606.1 1237.1 605.75 1240.05 C605.75 1252.72 624.75 1268.2 640.3 1268.2 L640.3 1306.2 A35.7 35.9 0 0 0 604.6 1342.1 A35.7 35.9 0 0 0 640.3 1378 L640.3 1416.4 A35.3 35.5 0 0 0 605 1451.9 L601.8 1451.9 A35.3 35.5 0 0 0 566.5 1416.4 L566.5 1378 A35.7 35.9 0 0 0 602.2 1342.1 A35.7 35.9 0 0 0 566.5 1306.2 L566.5 1268.2 C582.05 1268.2 601.05 1252.72 601.05 1240.05 Q600.7 1237.1 594.5 1236.15 L594.5 1234.25 Q601.7 1232.9 602.5 1226.2 Z" fill="#150e0f"/>
<text text-anchor="middle" font-size="30" fill="#b7cdc8" font-weight="normal" y="1297.94" x="594.32 612.48">99</text>
<text text-anchor="middle" font-size="30" fill="#ee5a7c" font-weight="normal" y="1407.94" x="595.75 611.36">37</text>
<path d="M773.9 1224.3 L775.7 1224.3 Q776.5 1231 783.7 1232.35 L783.7 1234.25 Q777.5 1235.2 777.15 1238.15 C777.15 1250.82 796.15 1266.3 811.7 1266.3 L811.7 1304.3 A35.7 35.9 0 0 0 776 1340.2 A35.7 35.9 0 0 0 811.7 1376.1 L811.7 1414.5 A35.3 35.5 0 0 0 776.4 1450 L773.2 1450 A35.3 35.5 0 0 0 737.9 1414.5 L737.9 1376.1 A35.7 35.9 0 0 0 773.6 1340.2 A35.7 35.9 0 0 0 737.9 1304.3 L737.9 1266.3 C753.45 1266.3 772.45 1250.82 772.45 1238.15 Q772.1 1235.2 765.9 1234.25 L765.9 1232.35 Q773.1 1231 773.9 1224.3 Z" fill="#150e0f"/>
<text text-anchor="middle" font-size="30" fill="#b7cdc8" font-weight="normal" y="1296.04" x="771.26 788.72">20</text>
<text text-anchor="middle" font-size="30" fill="#b7cdc8" font-weight="normal" transform="translate(757.06 1296.04) scale(0.7 1)" x="0" y="0">1</text>
<text text-anchor="middle" font-size="30" fill="#ee5a7c" font-weight="normal" y="1406.04" x="765.72 783.88">96</text>
<path d="M945.3 1222.7 L947.1 1222.7 Q947.9 1229.4 955.1 1230.75 L955.1 1232.65 Q948.9 1233.6 948.55 1236.55 C948.55 1249.22 967.55 1264.7 983.1 1264.7 L983.1 1302.7 A35.7 35.9 0 0 0 947.4 1338.6 A35.7 35.9 0 0 0 983.1 1374.5 L983.1 1412.9 A35.3 35.5 0 0 0 947.8 1448.4 L944.6 1448.4 A35.3 35.5 0 0 0 909.3 1412.9 L909.3 1374.5 A35.7 35.9 0 0 0 945 1338.6 A35.7 35.9 0 0 0 909.3 1302.7 L909.3 1264.7 C924.85 1264.7 943.85 1249.22 943.85 1236.55 Q943.5 1233.6 937.3 1232.65 L937.3 1230.75 Q944.5 1229.4 945.3 1222.7 Z" fill="#150e0f"/>
<text text-anchor="middle" font-size="30" fill="#b7cdc8" font-weight="normal" y="1294.44" x="944.21 961.25">45</text>
<text text-anchor="middle" font-size="30" fill="#b7cdc8" font-weight="normal" transform="translate(928.88 1294.44) scale(0.7 1)" x="0" y="0">1</text>
<text text-anchor="middle" font-size="30" fill="#ee5a7c" font-weight="normal" y="1404.44" x="936.7 955.28">60</text>
<path d="M1116.7 1215.9 L1118.5 1215.9 Q1119.3 1222.6 1126.5 1223.95 L1126.5 1225.85 Q1120.3 1226.8 1119.95 1229.75 C1119.95 1242.42 1138.95 1257.9 1154.5 1257.9 L1154.5 1295.9 A35.7 35.9 0 0 0 1118.8 1331.8 A35.7 35.9 0 0 0 1154.5 1367.7 L1154.5 1406.1 A35.3 35.5 0 0 0 1119.2 1441.6 L1116 1441.6 A35.3 35.5 0 0 0 1080.7 1406.1 L1080.7 1367.7 A35.7 35.9 0 0 0 1116.4 1331.8 A35.7 35.9 0 0 0 1080.7 1295.9 L1080.7 1257.9 C1096.25 1257.9 1115.25 1242.42 1115.25 1229.75 Q1114.9 1226.8 1108.7 1225.85 L1108.7 1223.95 Q1115.9 1222.6 1116.7 1215.9 Z" fill="#150e0f"/>
<text text-anchor="middle" font-size="30" fill="#b7cdc8" font-weight="normal" y="1287.64" x="1100.56 1116.47 1133.51">234</text>
<text text-anchor="middle" font-size="30" fill="#ee5a7c" font-weight="normal" y="1397.64" x="1115.61 1133.07">05</text>
<text text-anchor="middle" font-size="30" fill="#ee5a7c" font-weight="normal" transform="translate(1099.86 1397.64) scale(0.7 1)" x="0" y="0">1</text>
<path d="M1288.1 1203.3 L1289.9 1203.3 Q1290.7 1210 1297.9 1211.35 L1297.9 1213.25 Q1291.7 1214.2 1291.35 1217.15 C1291.35 1229.82 1310.35 1245.3 1325.9 1245.3 L1325.9 1283.3 A35.7 35.9 0 0 0 1290.2 1319.2 A35.7 35.9 0 0 0 1325.9 1355.1 L1325.9 1393.5 A35.3 35.5 0 0 0 1290.6 1429 L1287.4 1429 A35.3 35.5 0 0 0 1252.1 1393.5 L1252.1 1355.1 A35.7 35.9 0 0 0 1287.8 1319.2 A35.7 35.9 0 0 0 1252.1 1283.3 L1252.1 1245.3 C1267.65 1245.3 1286.65 1229.82 1286.65 1217.15 Q1286.3 1214.2 1280.1 1213.25 L1280.1 1211.35 Q1287.3 1210 1288.1 1203.3 Z" fill="#150e0f"/>
<text text-anchor="middle" font-size="30" fill="#b7cdc8" font-weight="normal" y="1275.04" x="1271.54 1290.13 1307.59">402</text>
<text text-anchor="middle" font-size="30" fill="#ee5a7c" font-weight="normal" y="1385.04" x="1287.01 1304.05">62</text>
<text text-anchor="middle" font-size="30" fill="#ee5a7c" font-weight="normal" transform="translate(1271.68 1385.04) scale(0.7 1)" x="0" y="0">1</text>
<path d="M1459.5 1179.7 L1461.3 1179.7 Q1462.1 1186.4 1469.3 1187.75 L1469.3 1189.65 Q1463.1 1190.6 1462.75 1193.55 C1462.75 1206.22 1481.75 1221.7 1497.3 1221.7 L1497.3 1259.7 A35.7 35.9 0 0 0 1461.6 1295.6 A35.7 35.9 0 0 0 1497.3 1331.5 L1497.3 1369.9 A35.3 35.5 0 0 0 1462 1405.4 L1458.8 1405.4 A35.3 35.5 0 0 0 1423.5 1369.9 L1423.5 1331.5 A35.7 35.9 0 0 0 1459.2 1295.6 A35.7 35.9 0 0 0 1423.5 1259.7 L1423.5 1221.7 C1439.05 1221.7 1458.05 1206.22 1458.05 1193.55 Q1457.7 1190.6 1451.5 1189.65 L1451.5 1187.75 Q1458.7 1186.4 1459.5 1179.7 Z" fill="#150e0f"/>
<text text-anchor="middle" font-size="30" fill="#b7cdc8" font-weight="normal" y="1251.44" x="1445.35 1474.01">76</text>
<text text-anchor="middle" font-size="30" fill="#b7cdc8" font-weight="normal" transform="translate(1458.68 1251.44) scale(0.7 1)" x="0" y="0">1</text>
<text text-anchor="middle" font-size="30" fill="#ee5a7c" font-weight="normal" y="1361.44" x="1443.36 1460.4 1477.44">243</text>
<path d="M99.9 1812.4 L101.7 1812.4 Q102.5 1819.1 109.7 1820.45 L109.7 1822.35 Q103.5 1823.3 103.15 1826.25 L103.15 1835.25 C103.15 1848.46 124.3 1864.6 141.6 1864.6 L141.6 1893.4 A37.8 34.55 0 0 0 103.8 1927.95 A37.8 34.55 0 0 0 141.6 1962.5 L141.6 1991.5 A38.4 38.5 0 0 0 103.2 2030 L98.4 2030 A38.4 38.5 0 0 0 60 1991.5 L60 1962.5 A37.8 34.55 0 0 0 97.8 1927.95 A37.8 34.55 0 0 0 60 1893.4 L60 1864.6 C77.3 1864.6 98.45 1848.46 98.45 1835.25 L98.45 1826.25 Q98.1 1823.3 91.9 1822.35 L91.9 1820.45 Q99.1 1819.1 99.9 1812.4 Z" fill="#150e0f"/>
<text text-anchor="middle" font-size="27.5" fill="#b7cdc8" font-weight="normal" y="1889.05" x="84.14 107.23 123.88">.88</text>
<text text-anchor="middle" font-size="27.5" fill="#b7cdc8" font-weight="normal" transform="translate(74.6 1889.05) scale(0.7 1)" x="0" y="0">1</text>
<text text-anchor="middle" font-size="27.5" fill="#b7cdc8" font-weight="normal" transform="translate(93.18 1889.05) scale(0.7 1)" x="0" y="0">1</text>
<text text-anchor="middle" font-size="27.5" fill="#ee5a7c" font-weight="normal" y="1987.05" x="85.18 101.83 117.46">485</text>
<path d="M261.6 1736.5 L263.4 1736.5 Q264.2 1743.2 271.4 1744.55 L271.4 1746.45 Q265.2 1747.4 264.85 1750.35 L264.85 1759.35 C264.85 1772.56 286 1788.7 303.3 1788.7 L303.3 1817.5 A37.8 34.55 0 0 0 265.5 1852.05 A37.8 34.55 0 0 0 303.3 1886.6 L303.3 1915.6 A38.4 38.5 0 0 0 264.9 1954.1 L260.1 1954.1 A38.4 38.5 0 0 0 221.7 1915.6 L221.7 1886.6 A37.8 34.55 0 0 0 259.5 1852.05 A37.8 34.55 0 0 0 221.7 1817.5 L221.7 1788.7 C239 1788.7 260.15 1772.56 260.15 1759.35 L260.15 1750.35 Q259.8 1747.4 253.6 1746.45 L253.6 1744.55 Q260.8 1743.2 261.6 1736.5 Z" fill="#150e0f"/>
<text text-anchor="middle" font-size="27.5" fill="#b7cdc8" font-weight="normal" y="1813.14" x="237.08 248.2 259.31 273.9 288.2">2.257</text>
<text text-anchor="middle" font-size="27.5" fill="#ee5a7c" font-weight="normal" y="1911.14" x="248.48 270.25 284.27">.77</text>
<text text-anchor="middle" font-size="27.5" fill="#ee5a7c" font-weight="normal" transform="translate(238.93 1911.14) scale(0.7 1)" x="0" y="0">1</text>
<text text-anchor="middle" font-size="27.5" fill="#ee5a7c" font-weight="normal" transform="translate(257.51 1911.14) scale(0.7 1)" x="0" y="0">1</text>
<path d="M423.3 1731.7 L425.1 1731.7 Q425.9 1738.4 433.1 1739.75 L433.1 1741.65 Q426.9 1742.6 426.55 1745.55 L426.55 1754.55 C426.55 1767.76 447.7 1783.9 465 1783.9 L465 1812.7 A38.4 38.5 0 0 0 426.6 1851.2 L421.8 1851.2 A38.4 38.5 0 0 0 383.4 1812.7 L383.4 1783.9 C400.7 1783.9 421.85 1767.76 421.85 1754.55 L421.85 1745.55 Q421.5 1742.6 415.3 1741.65 L415.3 1739.75 Q422.5 1738.4 423.3 1731.7 Z" fill="#150e0f"/>
<text text-anchor="middle" font-size="27.5" fill="#b7cdc8" font-weight="normal" y="1808.35" x="397.36 408.48 419.31 435.03 451.04">3.705</text>
<path d="M423.3 1864.2 L425.1 1864.2 Q425.9 1870.9 433.1 1872.25 L433.1 1874.15 Q426.9 1875.1 426.55 1878.05 L426.55 1887.05 C426.55 1900.26 447.7 1916.4 465 1916.4 L465 1945.2 A38.4 38.5 0 0 0 426.6 1983.7 L421.8 1983.7 A38.4 38.5 0 0 0 383.4 1945.2 L383.4 1916.4 C400.7 1916.4 421.85 1900.26 421.85 1887.05 L421.85 1878.05 Q421.5 1875.1 415.3 1874.15 L415.3 1872.25 Q422.5 1870.9 423.3 1864.2 Z" fill="#150e0f"/>
<text text-anchor="middle" font-size="27.5" fill="#ee5a7c" font-weight="normal" y="1940.85" x="406.75 418.9 434.52 449.11">.923</text>
<text text-anchor="middle" font-size="27.5" fill="#ee5a7c" font-weight="normal" transform="translate(397.2 1940.85) scale(0.7 1)" x="0" y="0">1</text>
<path d="M585 1801 L586.8 1801 Q587.6 1807.7 594.8 1809.05 L594.8 1810.95 Q588.6 1811.9 588.25 1814.85 L588.25 1823.85 C588.25 1837.06 609.4 1853.2 626.7 1853.2 L626.7 1882 A38.4 38.5 0 0 0 588.3 1920.5 L583.5 1920.5 A38.4 38.5 0 0 0 545.1 1882 L545.1 1853.2 C562.4 1853.2 583.55 1837.06 583.55 1823.85 L583.55 1814.85 Q583.2 1811.9 577 1810.95 L577 1809.05 Q584.2 1807.7 585 1801 Z" fill="#150e0f"/>
<text text-anchor="middle" font-size="27.5" fill="#b7cdc8" font-weight="normal" y="1877.64" x="559.44 570.56 581.4 595.7 611.32">2.726</text>
<path d="M585 1924.6 L586.8 1924.6 Q587.6 1931.3 594.8 1932.65 L594.8 1934.55 Q588.6 1935.5 588.25 1938.45 L588.25 1947.45 C588.25 1960.66 609.4 1976.8 626.7 1976.8 L626.7 2005.6 A38.4 38.5 0 0 0 588.3 2044.1 L583.5 2044.1 A38.4 38.5 0 0 0 545.1 2005.6 L545.1 1976.8 C562.4 1976.8 583.55 1960.66 583.55 1947.45 L583.55 1938.45 Q583.2 1935.5 577 1934.55 L577 1932.65 Q584.2 1931.3 585 1924.6 Z" fill="#150e0f"/>
<text text-anchor="middle" font-size="27.5" fill="#ee5a7c" font-weight="normal" y="2001.24" x="568.86 581.4 598.43">.08</text>
<text text-anchor="middle" font-size="27.5" fill="#ee5a7c" font-weight="normal" transform="translate(559.31 2001.24) scale(0.7 1)" x="0" y="0">1</text>
<text text-anchor="middle" font-size="27.5" fill="#ee5a7c" font-weight="normal" transform="translate(611.97 2001.24) scale(0.7 1)" x="0" y="0">1</text>
<path d="M746.7 1566.4 L748.5 1566.4 Q749.3 1573.1 756.5 1574.45 L756.5 1576.35 Q750.3 1577.3 749.95 1580.25 L749.95 1589.25 C749.95 1602.46 771.1 1618.6 788.4 1618.6 L788.4 1647.4 A38.4 38.5 0 0 0 750 1685.9 L745.2 1685.9 A38.4 38.5 0 0 0 706.8 1647.4 L706.8 1618.6 C724.1 1618.6 745.25 1602.46 745.25 1589.25 L745.25 1580.25 Q744.9 1577.3 738.7 1576.35 L738.7 1574.45 Q745.9 1573.1 746.7 1566.4 Z" fill="#150e0f"/>
<text text-anchor="middle" font-size="27.5" fill="#b7cdc8" font-weight="normal" y="1643.05" x="720.48 732.63 745.16 761.17 775.76">6.035</text>
<path d="M746.7 1860.1 L748.5 1860.1 Q749.3 1866.8 756.5 1868.15 L756.5 1870.05 Q750.3 1871 749.95 1873.95 L749.95 1882.95 C749.95 1896.16 771.1 1912.3 788.4 1912.3 L788.4 1941.1 A38.4 38.5 0 0 0 750 1979.6 L745.2 1979.6 A38.4 38.5 0 0 0 706.8 1941.1 L706.8 1912.3 C724.1 1912.3 745.25 1896.16 745.25 1882.95 L745.25 1873.95 Q744.9 1871 738.7 1870.05 L738.7 1868.15 Q745.9 1866.8 746.7 1860.1 Z" fill="#150e0f"/>
<text text-anchor="middle" font-size="27.5" fill="#ee5a7c" font-weight="normal" y="1936.74" x="728.08 740.24 756.89 773.55">.966</text>
<text text-anchor="middle" font-size="27.5" fill="#ee5a7c" font-weight="normal" transform="translate(718.54 1936.74) scale(0.7 1)" x="0" y="0">1</text>
<path d="M908.4 1658 L910.2 1658 Q911 1664.7 918.2 1666.05 L918.2 1667.95 Q912 1668.9 911.65 1671.85 L911.65 1680.85 C911.65 1694.06 932.8 1710.2 950.1 1710.2 L950.1 1739 A38.4 38.5 0 0 0 911.7 1777.5 L906.9 1777.5 A38.4 38.5 0 0 0 868.5 1739 L868.5 1710.2 C885.8 1710.2 906.95 1694.06 906.95 1680.85 L906.95 1671.85 Q906.6 1668.9 900.4 1667.95 L900.4 1666.05 Q907.6 1664.7 908.4 1658 Z" fill="#150e0f"/>
<text text-anchor="middle" font-size="27.5" fill="#b7cdc8" font-weight="normal" y="1734.64" x="884.67 896.82 907.66 923">4.74</text>
<text text-anchor="middle" font-size="27.5" fill="#b7cdc8" font-weight="normal" transform="translate(936.53 1734.64) scale(0.7 1)" x="0" y="0">1</text>
<path d="M908.4 1832.7 L910.2 1832.7 Q911 1839.4 918.2 1840.75 L918.2 1842.65 Q912 1843.6 911.65 1846.55 L911.65 1855.55 C911.65 1868.76 932.8 1884.9 950.1 1884.9 L950.1 1913.7 A38.4 38.5 0 0 0 911.7 1952.2 L906.9 1952.2 A38.4 38.5 0 0 0 868.5 1913.7 L868.5 1884.9 C885.8 1884.9 906.95 1868.76 906.95 1855.55 L906.95 1846.55 Q906.6 1843.6 900.4 1842.65 L900.4 1840.75 Q907.6 1839.4 908.4 1832.7 Z" fill="#150e0f"/>
<text text-anchor="middle" font-size="27.5" fill="#ee5a7c" font-weight="normal" y="1909.35" x="882.84 893.96 905.08 919.38 934.72">2.378</text>
<path d="M1070.1 1801.1 L1071.9 1801.1 Q1072.7 1807.8 1079.9 1809.15 L1079.9 1811.05 Q1073.7 1812 1073.35 1814.95 L1073.35 1823.95 C1073.35 1837.16 1094.5 1853.3 1111.8 1853.3 L1111.8 1882.1 A37.8 36.4 0 0 0 1074 1918.5 A37.8 36.4 0 0 0 1111.8 1954.9 L1111.8 1983.9 A38.4 38.5 0 0 0 1073.4 2022.4 L1068.6 2022.4 A38.4 38.5 0 0 0 1030.2 1983.9 L1030.2 1954.9 A37.8 36.4 0 0 0 1068 1918.5 A37.8 36.4 0 0 0 1030.2 1882.1 L1030.2 1853.3 C1047.5 1853.3 1068.65 1837.16 1068.65 1823.95 L1068.65 1814.95 Q1068.3 1812 1062.1 1811.05 L1062.1 1809.15 Q1069.3 1807.8 1070.1 1801.1 Z" fill="#150e0f"/>
<text text-anchor="middle" font-size="27.5" fill="#b7cdc8" font-weight="normal" y="1877.74" x="1045.58 1056.7 1067.53 1081.83 1096.42">2.723</text>
<text text-anchor="middle" font-size="27.5" fill="#ee5a7c" font-weight="normal" y="1979.44" x="1052.14 1064.29 1081.32 1097.33">.402</text>
<text text-anchor="middle" font-size="27.5" fill="#ee5a7c" font-weight="normal" transform="translate(1042.59 1979.44) scale(0.7 1)" x="0" y="0">1</text>
<path d="M1231.8 1689.4 L1233.6 1689.4 Q1234.4 1696.1 1241.6 1697.45 L1241.6 1699.35 Q1235.4 1700.3 1235.05 1703.25 L1235.05 1712.25 C1235.05 1725.46 1256.2 1741.6 1273.5 1741.6 L1273.5 1770.4 A37.8 34.55 0 0 0 1235.7 1804.95 A37.8 34.55 0 0 0 1273.5 1839.5 L1273.5 1868.5 A38.4 38.5 0 0 0 1235.1 1907 L1230.3 1907 A38.4 38.5 0 0 0 1191.9 1868.5 L1191.9 1839.5 A37.8 34.55 0 0 0 1229.7 1804.95 A37.8 34.55 0 0 0 1191.9 1770.4 L1191.9 1741.6 C1209.2 1741.6 1230.35 1725.46 1230.35 1712.25 L1230.35 1703.25 Q1230 1700.3 1223.8 1699.35 L1223.8 1697.45 Q1231 1696.1 1231.8 1689.4 Z" fill="#150e0f"/>
<text text-anchor="middle" font-size="27.5" fill="#b7cdc8" font-weight="normal" y="1766.05" x="1203.51 1214.63 1226.78 1243.82 1260.86">2.909</text>
<text text-anchor="middle" font-size="27.5" fill="#ee5a7c" font-weight="normal" y="1864.05" x="1216.04 1232.7 1249.36">986</text>
<path d="M1393.5 1709 L1395.3 1709 Q1396.1 1715.7 1403.3 1717.05 L1403.3 1718.95 Q1397.1 1719.9 1396.75 1722.85 L1396.75 1731.85 C1396.75 1745.06 1417.9 1761.2 1435.2 1761.2 L1435.2 1790 A37.8 34.55 0 0 0 1397.4 1824.55 A37.8 34.55 0 0 0 1435.2 1859.1 L1435.2 1888.1 A38.4 38.5 0 0 0 1396.8 1926.6 L1392 1926.6 A38.4 38.5 0 0 0 1353.6 1888.1 L1353.6 1859.1 A37.8 34.55 0 0 0 1391.4 1824.55 A37.8 34.55 0 0 0 1353.6 1790 L1353.6 1761.2 C1370.9 1761.2 1392.05 1745.06 1392.05 1731.85 L1392.05 1722.85 Q1391.7 1719.9 1385.5 1718.95 L1385.5 1717.05 Q1392.7 1715.7 1393.5 1709 Z" fill="#150e0f"/>
<text text-anchor="middle" font-size="27.5" fill="#b7cdc8" font-weight="normal" y="1785.64" x="1366.63 1377.74 1389.9 1405.52 1421.14">2.636</text>
<text text-anchor="middle" font-size="27.5" fill="#ee5a7c" font-weight="normal" y="1883.64" x="1381.64 1397.26">95</text>
<text text-anchor="middle" font-size="27.5" fill="#ee5a7c" font-weight="normal" transform="translate(1409.76 1883.64) scale(0.7 1)" x="0" y="0">1</text>
<path d="M98.6 2342.6 L100.4 2342.6 Q101.2 2349.3 108.4 2350.65 L108.4 2352.55 Q102.2 2353.5 101.85 2356.45 L101.85 2365.45 C101.85 2378.16 123.02 2393.7 140.35 2393.7 L140.35 2423.7 A38.45 37.5 0 0 0 101.9 2461.2 L97.1 2461.2 A38.45 37.5 0 0 0 58.65 2423.7 L58.65 2393.7 C75.97 2393.7 97.15 2378.16 97.15 2365.45 L97.15 2356.45 Q96.8 2353.5 90.6 2352.55 L90.6 2350.65 Q97.8 2349.3 98.6 2342.6 Z" fill="#150e0f"/>
<text text-anchor="middle" font-size="27.5" fill="#b7cdc8" font-weight="normal" y="2418.84" x="70.69 81.81 93.96 110.62 127.27">2.446</text>
<path d="M98.6 2477.6 L100.4 2477.6 Q101.2 2484.3 108.4 2485.65 L108.4 2487.55 Q102.2 2488.5 101.85 2491.45 L101.85 2500.45 C101.85 2513.16 123.02 2528.7 140.35 2528.7 L140.35 2558.7 A38.45 37.5 0 0 0 101.9 2596.2 L97.1 2596.2 A38.45 37.5 0 0 0 58.65 2558.7 L58.65 2528.7 C75.97 2528.7 97.15 2513.16 97.15 2500.45 L97.15 2491.45 Q96.8 2488.5 90.6 2487.55 L90.6 2485.65 Q97.8 2484.3 98.6 2477.6 Z" fill="#150e0f"/>
<text text-anchor="middle" font-size="27.5" fill="#ee5a7c" font-weight="normal" y="2553.84" x="83.88 99.5 115.12">562</text>
<path d="M245.4 2396.6 L247.2 2396.6 Q248 2403.3 255.2 2404.65 L255.2 2406.55 Q249 2407.5 248.65 2410.45 L248.65 2419.45 C248.65 2432.16 269.83 2447.7 287.15 2447.7 L287.15 2477.7 A37.85 34.4 0 0 0 249.3 2512.1 A37.85 34.4 0 0 0 287.15 2546.5 L287.15 2576.3 A38.45 37.5 0 0 0 248.7 2613.8 L243.9 2613.8 A38.45 37.5 0 0 0 205.45 2576.3 L205.45 2546.5 A37.85 34.4 0 0 0 243.3 2512.1 A37.85 34.4 0 0 0 205.45 2477.7 L205.45 2447.7 C222.78 2447.7 243.95 2432.16 243.95 2419.45 L243.95 2410.45 Q243.6 2407.5 237.4 2406.55 L237.4 2404.65 Q244.6 2403.3 245.4 2396.6 Z" fill="#150e0f"/>
<text text-anchor="middle" font-size="27.5" fill="#b7cdc8" font-weight="normal" y="2473.24" x="227.82 239.97 255.59 271.21">.956</text>
<text text-anchor="middle" font-size="27.5" fill="#b7cdc8" font-weight="normal" transform="translate(218.27 2473.24) scale(0.7 1)" x="0" y="0">1</text>
<text text-anchor="middle" font-size="27.5" fill="#ee5a7c" font-weight="normal" y="2573.74" x="229.64 246.3 262.96">499</text>
<path d="M392.2 2406.5 L394 2406.5 Q394.8 2413.2 402 2414.55 L402 2416.45 Q395.8 2417.4 395.45 2420.35 L395.45 2429.35 C395.45 2442.06 416.63 2457.6 433.95 2457.6 L433.95 2487.6 A37.85 34.4 0 0 0 396.1 2522 A37.85 34.4 0 0 0 433.95 2556.4 L433.95 2586.2 A38.45 37.5 0 0 0 395.5 2623.7 L390.7 2623.7 A38.45 37.5 0 0 0 352.25 2586.2 L352.25 2556.4 A37.85 34.4 0 0 0 390.1 2522 A37.85 34.4 0 0 0 352.25 2487.6 L352.25 2457.6 C369.57 2457.6 390.75 2442.06 390.75 2429.35 L390.75 2420.35 Q390.4 2417.4 384.2 2416.45 L384.2 2414.55 Q391.4 2413.2 392.2 2406.5 Z" fill="#150e0f"/>
<text text-anchor="middle" font-size="27.5" fill="#b7cdc8" font-weight="normal" y="2483.24" x="376.69 387.8 402.39 416.98">.522</text>
<text text-anchor="middle" font-size="27.5" fill="#b7cdc8" font-weight="normal" transform="translate(367.14 2483.24) scale(0.7 1)" x="0" y="0">1</text>
<text text-anchor="middle" font-size="27.5" fill="#ee5a7c" font-weight="normal" y="2580.24" x="391.27 406.89">93</text>
<text text-anchor="middle" font-size="27.5" fill="#ee5a7c" font-weight="normal" transform="translate(377.22 2580.24) scale(0.7 1)" x="0" y="0">1</text>
<path d="M539 2411.1 L540.8 2411.1 Q541.6 2417.8 548.8 2419.15 L548.8 2421.05 Q542.6 2422 542.25 2424.95 L542.25 2433.95 C542.25 2446.66 563.43 2462.2 580.75 2462.2 L580.75 2492.2 A37.85 34.4 0 0 0 542.9 2526.6 A37.85 34.4 0 0 0 580.75 2561 L580.75 2590.8 A38.45 37.5 0 0 0 542.3 2628.3 L537.5 2628.3 A38.45 37.5 0 0 0 499.05 2590.8 L499.05 2561 A37.85 34.4 0 0 0 536.9 2526.6 A37.85 34.4 0 0 0 499.05 2492.2 L499.05 2462.2 C516.38 2462.2 537.55 2446.66 537.55 2433.95 L537.55 2424.95 Q537.2 2422 531 2421.05 L531 2419.15 Q538.2 2417.8 539 2411.1 Z" fill="#150e0f"/>
<text text-anchor="middle" font-size="27.5" fill="#b7cdc8" font-weight="normal" y="2487.34" x="520 532.54 549.57 566.23">.094</text>
<text text-anchor="middle" font-size="27.5" fill="#b7cdc8" font-weight="normal" transform="translate(510.45 2487.34) scale(0.7 1)" x="0" y="0">1</text>
<text text-anchor="middle" font-size="27.5" fill="#ee5a7c" font-weight="normal" y="2586.05" x="522.86 538.87 555.9">209</text>
<path d="M685.8 2380 L687.6 2380 Q688.4 2386.7 695.6 2388.05 L695.6 2389.95 Q689.4 2390.9 689.05 2393.85 C689.05 2405.62 706.84 2420 721.4 2420 L721.4 2456.4 A33.5 33.6 0 0 0 687.9 2490 A33.5 33.6 0 0 0 721.4 2523.6 L721.4 2559.9 A33.1 34 0 0 0 688.3 2593.9 L685.1 2593.9 A33.1 34 0 0 0 652 2559.9 L652 2523.6 A33.5 33.6 0 0 0 685.5 2490 A33.5 33.6 0 0 0 652 2456.4 L652 2420 C666.56 2420 684.35 2405.62 684.35 2393.85 Q684 2390.9 677.8 2389.95 L677.8 2388.05 Q685 2386.7 685.8 2380 Z" fill="#150e0f"/>
<text text-anchor="middle" font-size="27.8" fill="#b7cdc8" font-weight="normal" y="2447.95" x="673.8 700.64">62</text>
<text text-anchor="middle" font-size="27.8" fill="#b7cdc8" font-weight="normal" transform="translate(687.48 2447.95) scale(0.7 1)" x="0" y="0">1</text>
<text text-anchor="middle" font-size="27.8" fill="#ee5a7c" font-weight="normal" y="2551.5" x="697.75">3</text>
<text text-anchor="middle" font-size="27.8" fill="#ee5a7c" font-weight="normal" transform="translate(673.54 2551.5) scale(0.7 1)" x="0" y="0">1</text>
<text text-anchor="middle" font-size="27.8" fill="#ee5a7c" font-weight="normal" transform="translate(684.59 2551.5) scale(0.7 1)" x="0" y="0">1</text>
<path d="M832.6 2388.8 L834.4 2388.8 Q835.2 2395.5 842.4 2396.85 L842.4 2398.75 Q836.2 2399.7 835.85 2402.65 C835.85 2414.42 853.64 2428.8 868.2 2428.8 L868.2 2465.2 A33.5 33.6 0 0 0 834.7 2498.8 A33.5 33.6 0 0 0 868.2 2532.4 L868.2 2568.7 A33.1 34 0 0 0 835.1 2602.7 L831.9 2602.7 A33.1 34 0 0 0 798.8 2568.7 L798.8 2532.4 A33.5 33.6 0 0 0 832.3 2498.8 A33.5 33.6 0 0 0 798.8 2465.2 L798.8 2428.8 C813.36 2428.8 831.15 2414.42 831.15 2402.65 Q830.8 2399.7 824.6 2398.75 L824.6 2396.85 Q831.8 2395.5 832.6 2388.8 Z" fill="#150e0f"/>
<text text-anchor="middle" font-size="27.8" fill="#b7cdc8" font-weight="normal" y="2456.75" x="817.99 833.5 849.01">479</text>
<text text-anchor="middle" font-size="27.8" fill="#ee5a7c" font-weight="normal" y="2560.3" x="830.22 847.83">00</text>
<text text-anchor="middle" font-size="27.8" fill="#ee5a7c" font-weight="normal" transform="translate(815.63 2560.3) scale(0.7 1)" x="0" y="0">1</text>
<path d="M979.4 2388 L981.2 2388 Q982 2394.7 989.2 2396.05 L989.2 2397.95 Q983 2398.9 982.65 2401.85 C982.65 2413.62 1000.44 2428 1015 2428 L1015 2464.4 A33.5 33.6 0 0 0 981.5 2498 A33.5 33.6 0 0 0 1015 2531.6 L1015 2567.9 A33.1 34 0 0 0 981.9 2601.9 L978.7 2601.9 A33.1 34 0 0 0 945.6 2567.9 L945.6 2531.6 A33.5 33.6 0 0 0 979.1 2498 A33.5 33.6 0 0 0 945.6 2464.4 L945.6 2428 C960.16 2428 977.95 2413.62 977.95 2401.85 Q977.6 2398.9 971.4 2397.95 L971.4 2396.05 Q978.6 2394.7 979.4 2388 Z" fill="#150e0f"/>
<text text-anchor="middle" font-size="27.8" fill="#b7cdc8" font-weight="normal" y="2455.95" x="964.51 981.35 997.14">485</text>
<text text-anchor="middle" font-size="27.8" fill="#ee5a7c" font-weight="normal" y="2559.5" x="991.35">3</text>
<text text-anchor="middle" font-size="27.8" fill="#ee5a7c" font-weight="normal" transform="translate(967.14 2559.5) scale(0.7 1)" x="0" y="0">1</text>
<text text-anchor="middle" font-size="27.8" fill="#ee5a7c" font-weight="normal" transform="translate(978.19 2559.5) scale(0.7 1)" x="0" y="0">1</text>
<path d="M1126.2 2401.5 L1128 2401.5 Q1128.8 2408.2 1136 2409.55 L1136 2411.45 Q1129.8 2412.4 1129.45 2415.35 C1129.45 2427.12 1147.24 2441.5 1161.8 2441.5 L1161.8 2477.9 A33.5 33.6 0 0 0 1128.3 2511.5 A33.5 33.6 0 0 0 1161.8 2545.1 L1161.8 2581.4 A33.1 34 0 0 0 1128.7 2615.4 L1125.5 2615.4 A33.1 34 0 0 0 1092.4 2581.4 L1092.4 2545.1 A33.5 33.6 0 0 0 1125.9 2511.5 A33.5 33.6 0 0 0 1092.4 2477.9 L1092.4 2441.5 C1106.96 2441.5 1124.75 2427.12 1124.75 2415.35 Q1124.4 2412.4 1118.2 2411.45 L1118.2 2409.55 Q1125.4 2408.2 1126.2 2401.5 Z" fill="#150e0f"/>
<text text-anchor="middle" font-size="27.8" fill="#b7cdc8" font-weight="normal" y="2469.45" x="1109.49 1125.67 1143.28">300</text>
<text text-anchor="middle" font-size="27.8" fill="#ee5a7c" font-weight="normal" y="2573" x="1118.3 1135.52">60</text>
<path d="M1273 2399.5 L1274.8 2399.5 Q1275.6 2406.2 1282.8 2407.55 L1282.8 2409.45 Q1276.6 2410.4 1276.25 2413.35 C1276.25 2425.12 1294.04 2439.5 1308.6 2439.5 L1308.6 2475.9 A33.5 33.6 0 0 0 1275.1 2509.5 A33.5 33.6 0 0 0 1308.6 2543.1 L1308.6 2579.4 A33.1 34 0 0 0 1275.5 2613.4 L1272.3 2613.4 A33.1 34 0 0 0 1239.2 2579.4 L1239.2 2543.1 A33.5 33.6 0 0 0 1272.7 2509.5 A33.5 33.6 0 0 0 1239.2 2475.9 L1239.2 2439.5 C1253.76 2439.5 1271.55 2425.12 1271.55 2413.35 Q1271.2 2410.4 1265 2409.45 L1265 2407.55 Q1272.2 2406.2 1273 2399.5 Z" fill="#150e0f"/>
<text text-anchor="middle" font-size="27.8" fill="#b7cdc8" font-weight="normal" y="2467.45" x="1258.11 1272.85 1288.65">338</text>
<text text-anchor="middle" font-size="27.8" fill="#ee5a7c" font-weight="normal" y="2571" x="1265.48 1282.32">99</text>
<path d="M1419.8 2407.4 L1421.6 2407.4 Q1422.4 2414.1 1429.6 2415.45 L1429.6 2417.35 Q1423.4 2418.3 1423.05 2421.25 C1423.05 2433.02 1440.84 2447.4 1455.4 2447.4 L1455.4 2483.8 A33.5 33.6 0 0 0 1421.9 2517.4 A33.5 33.6 0 0 0 1455.4 2551 L1455.4 2587.3 A33.1 34 0 0 0 1422.3 2621.3 L1419.1 2621.3 A33.1 34 0 0 0 1386 2587.3 L1386 2551 A33.5 33.6 0 0 0 1419.5 2517.4 A33.5 33.6 0 0 0 1386 2483.8 L1386 2447.4 C1400.56 2447.4 1418.35 2433.02 1418.35 2421.25 Q1418 2418.3 1411.8 2417.35 L1411.8 2415.45 Q1419 2414.1 1419.8 2407.4 Z" fill="#150e0f"/>
<text text-anchor="middle" font-size="27.8" fill="#b7cdc8" font-weight="normal" y="2475.35" x="1409.65">2</text>
<text text-anchor="middle" font-size="27.8" fill="#b7cdc8" font-weight="normal" transform="translate(1422.29 2475.35) scale(0.7 1)" x="0" y="0">1</text>
<text text-anchor="middle" font-size="27.8" fill="#b7cdc8" font-weight="normal" transform="translate(1433.34 2475.35) scale(0.7 1)" x="0" y="0">1</text>
<text text-anchor="middle" font-size="27.8" fill="#ee5a7c" font-weight="normal" y="2578.9" x="1413.61 1428.07">27</text>
<path d="M91.9 2745.3 L93.7 2745.3 Q94.5 2752 101.7 2753.35 L101.7 2755.25 Q95.5 2756.2 95.15 2759.15 C95.15 2770.92 112.94 2785.3 127.5 2785.3 L127.5 2821.7 A33.5 33.6 0 0 0 94 2855.3 A33.5 33.6 0 0 0 127.5 2888.9 L127.5 2925.2 A33.1 34 0 0 0 94.4 2959.2 L91.2 2959.2 A33.1 34 0 0 0 58.1 2925.2 L58.1 2888.9 A33.5 33.6 0 0 0 91.6 2855.3 A33.5 33.6 0 0 0 58.1 2821.7 L58.1 2785.3 C72.66 2785.3 90.45 2770.92 90.45 2759.15 Q90.1 2756.2 83.9 2755.25 L83.9 2753.35 Q91.1 2752 91.9 2745.3 Z" fill="#150e0f"/>
<text text-anchor="middle" font-size="27.8" fill="#b7cdc8" font-weight="normal" y="2813.25" x="85.71 100.17">57</text>
<text text-anchor="middle" font-size="27.8" fill="#ee5a7c" font-weight="normal" y="2916.8" x="92.8">2</text>
<path d="M231.9 2748.6 L233.7 2748.6 Q234.5 2755.3 241.7 2756.65 L241.7 2758.55 Q235.5 2759.5 235.15 2762.45 C235.15 2774.22 252.94 2788.6 267.5 2788.6 L267.5 2825 A33.5 33.6 0 0 0 234 2858.6 A33.5 33.6 0 0 0 267.5 2892.2 L267.5 2928.5 A33.1 34 0 0 0 234.4 2962.5 L231.2 2962.5 A33.1 34 0 0 0 198.1 2928.5 L198.1 2892.2 A33.5 33.6 0 0 0 231.6 2858.6 A33.5 33.6 0 0 0 198.1 2825 L198.1 2788.6 C212.66 2788.6 230.45 2774.22 230.45 2762.45 Q230.1 2759.5 223.9 2758.55 L223.9 2756.65 Q231.1 2755.3 231.9 2748.6 Z" fill="#150e0f"/>
<text text-anchor="middle" font-size="27.8" fill="#b7cdc8" font-weight="normal" y="2816.55" x="224.38 240.17">26</text>
<text text-anchor="middle" font-size="27.8" fill="#ee5a7c" font-weight="normal" y="2920.1" x="232.8">4</text>
<path d="M371.9 2749.4 L373.7 2749.4 Q374.5 2756.1 381.7 2757.45 L381.7 2759.35 Q375.5 2760.3 375.15 2763.25 C375.15 2775.02 392.94 2789.4 407.5 2789.4 L407.5 2825.8 A33.5 33.6 0 0 0 374 2859.4 A33.5 33.6 0 0 0 407.5 2893 L407.5 2929.3 A33.1 34 0 0 0 374.4 2963.3 L371.2 2963.3 A33.1 34 0 0 0 338.1 2929.3 L338.1 2893 A33.5 33.6 0 0 0 371.6 2859.4 A33.5 33.6 0 0 0 338.1 2825.8 L338.1 2789.4 C352.66 2789.4 370.45 2775.02 370.45 2763.25 Q370.1 2760.3 363.9 2759.35 L363.9 2757.45 Q371.1 2756.1 371.9 2749.4 Z" fill="#150e0f"/>
<text text-anchor="middle" font-size="27.8" fill="#b7cdc8" font-weight="normal" y="2817.35" x="372.8">3</text>
<text text-anchor="middle" font-size="27.8" fill="#ee5a7c" font-weight="normal" transform="translate(372.54 2920.9) scale(0.7 1)" x="0" y="0">1</text>
<path d="M511.9 2749.4 L513.7 2749.4 Q514.5 2756.1 521.7 2757.45 L521.7 2759.35 Q515.5 2760.3 515.15 2763.25 C515.15 2775.02 532.94 2789.4 547.5 2789.4 L547.5 2825.8 A33.5 33.6 0 0 0 514 2859.4 A33.5 33.6 0 0 0 547.5 2893 L547.5 2929.3 A33.1 34 0 0 0 514.4 2963.3 L511.2 2963.3 A33.1 34 0 0 0 478.1 2929.3 L478.1 2893 A33.5 33.6 0 0 0 511.6 2859.4 A33.5 33.6 0 0 0 478.1 2825.8 L478.1 2789.4 C492.66 2789.4 510.45 2775.02 510.45 2763.25 Q510.1 2760.3 503.9 2759.35 L503.9 2757.45 Q511.1 2756.1 511.9 2749.4 Z" fill="#150e0f"/>
<text text-anchor="middle" font-size="27.8" fill="#b7cdc8" font-weight="normal" y="2817.35" x="512.8">4</text>
<text text-anchor="middle" font-size="27.8" fill="#ee5a7c" font-weight="normal" y="2920.9" x="512.8">0</text>
<path d="M651.9 2749.4 L653.7 2749.4 Q654.5 2756.1 661.7 2757.45 L661.7 2759.35 Q655.5 2760.3 655.15 2763.25 C655.15 2775.02 672.94 2789.4 687.5 2789.4 L687.5 2825.8 A33.5 33.6 0 0 0 654 2859.4 A33.5 33.6 0 0 0 687.5 2893 L687.5 2929.3 A33.1 34 0 0 0 654.4 2963.3 L651.2 2963.3 A33.1 34 0 0 0 618.1 2929.3 L618.1 2893 A33.5 33.6 0 0 0 651.6 2859.4 A33.5 33.6 0 0 0 618.1 2825.8 L618.1 2789.4 C632.66 2789.4 650.45 2775.02 650.45 2763.25 Q650.1 2760.3 643.9 2759.35 L643.9 2757.45 Q651.1 2756.1 651.9 2749.4 Z" fill="#150e0f"/>
<text text-anchor="middle" font-size="27.8" fill="#b7cdc8" font-weight="normal" y="2817.35" x="652.8">0</text>
<text text-anchor="middle" font-size="27.8" fill="#ee5a7c" font-weight="normal" y="2920.9" x="652.8">0</text>
<path d="M791.9 2749.4 L793.7 2749.4 Q794.5 2756.1 801.7 2757.45 L801.7 2759.35 Q795.5 2760.3 795.15 2763.25 C795.15 2775.02 812.94 2789.4 827.5 2789.4 L827.5 2825.8 A33.5 33.6 0 0 0 794 2859.4 A33.5 33.6 0 0 0 827.5 2893 L827.5 2929.3 A33.1 34 0 0 0 794.4 2963.3 L791.2 2963.3 A33.1 34 0 0 0 758.1 2929.3 L758.1 2893 A33.5 33.6 0 0 0 791.6 2859.4 A33.5 33.6 0 0 0 758.1 2825.8 L758.1 2789.4 C772.66 2789.4 790.45 2775.02 790.45 2763.25 Q790.1 2760.3 783.9 2759.35 L783.9 2757.45 Q791.1 2756.1 791.9 2749.4 Z" fill="#150e0f"/>
<text text-anchor="middle" font-size="27.8" fill="#b7cdc8" font-weight="normal" y="2817.35" x="792.8">0</text>
<text text-anchor="middle" font-size="27.8" fill="#ee5a7c" font-weight="normal" y="2920.9" x="792.8">0</text>
<path d="M931.9 2749.4 L933.7 2749.4 Q934.5 2756.1 941.7 2757.45 L941.7 2759.35 Q935.5 2760.3 935.15 2763.25 C935.15 2775.02 952.94 2789.4 967.5 2789.4 L967.5 2825.8 A33.5 33.6 0 0 0 934 2859.4 A33.5 33.6 0 0 0 967.5 2893 L967.5 2929.3 A33.1 34 0 0 0 934.4 2963.3 L931.2 2963.3 A33.1 34 0 0 0 898.1 2929.3 L898.1 2893 A33.5 33.6 0 0 0 931.6 2859.4 A33.5 33.6 0 0 0 898.1 2825.8 L898.1 2789.4 C912.66 2789.4 930.45 2775.02 930.45 2763.25 Q930.1 2760.3 923.9 2759.35 L923.9 2757.45 Q931.1 2756.1 931.9 2749.4 Z" fill="#150e0f"/>
<text text-anchor="middle" font-size="27.8" fill="#b7cdc8" font-weight="normal" transform="translate(932.54 2817.35) scale(0.7 1)" x="0" y="0">1</text>
<text text-anchor="middle" font-size="27.8" fill="#ee5a7c" font-weight="normal" y="2920.9" x="932.8">0</text>
<path d="M1071.9 2749.4 L1073.7 2749.4 Q1074.5 2756.1 1081.7 2757.45 L1081.7 2759.35 Q1075.5 2760.3 1075.15 2763.25 C1075.15 2775.02 1092.94 2789.4 1107.5 2789.4 L1107.5 2825.8 A33.5 33.6 0 0 0 1074 2859.4 A33.5 33.6 0 0 0 1107.5 2893 L1107.5 2929.3 A33.1 34 0 0 0 1074.4 2963.3 L1071.2 2963.3 A33.1 34 0 0 0 1038.1 2929.3 L1038.1 2893 A33.5 33.6 0 0 0 1071.6 2859.4 A33.5 33.6 0 0 0 1038.1 2825.8 L1038.1 2789.4 C1052.66 2789.4 1070.45 2775.02 1070.45 2763.25 Q1070.1 2760.3 1063.9 2759.35 L1063.9 2757.45 Q1071.1 2756.1 1071.9 2749.4 Z" fill="#150e0f"/>
<text text-anchor="middle" font-size="27.8" fill="#b7cdc8" font-weight="normal" transform="translate(1072.54 2817.35) scale(0.7 1)" x="0" y="0">1</text>
<text text-anchor="middle" font-size="27.8" fill="#ee5a7c" font-weight="normal" y="2920.9" x="1072.8">0</text>
<path d="M1211.9 2749.4 L1213.7 2749.4 Q1214.5 2756.1 1221.7 2757.45 L1221.7 2759.35 Q1215.5 2760.3 1215.15 2763.25 C1215.15 2775.02 1232.94 2789.4 1247.5 2789.4 L1247.5 2825.8 A33.5 33.6 0 0 0 1214 2859.4 A33.5 33.6 0 0 0 1247.5 2893 L1247.5 2929.3 A33.1 34 0 0 0 1214.4 2963.3 L1211.2 2963.3 A33.1 34 0 0 0 1178.1 2929.3 L1178.1 2893 A33.5 33.6 0 0 0 1211.6 2859.4 A33.5 33.6 0 0 0 1178.1 2825.8 L1178.1 2789.4 C1192.66 2789.4 1210.45 2775.02 1210.45 2763.25 Q1210.1 2760.3 1203.9 2759.35 L1203.9 2757.45 Q1211.1 2756.1 1211.9 2749.4 Z" fill="#150e0f"/>
<text text-anchor="middle" font-size="27.8" fill="#b7cdc8" font-weight="normal" transform="translate(1212.54 2817.35) scale(0.7 1)" x="0" y="0">1</text>
<text text-anchor="middle" font-size="27.8" fill="#ee5a7c" font-weight="normal" y="2920.9" x="1212.8">0</text>
<path d="M1351.9 2749.4 L1353.7 2749.4 Q1354.5 2756.1 1361.7 2757.45 L1361.7 2759.35 Q1355.5 2760.3 1355.15 2763.25 C1355.15 2775.02 1372.94 2789.4 1387.5 2789.4 L1387.5 2825.8 A33.5 33.6 0 0 0 1354 2859.4 A33.5 33.6 0 0 0 1387.5 2893 L1387.5 2929.3 A33.1 34 0 0 0 1354.4 2963.3 L1351.2 2963.3 A33.1 34 0 0 0 1318.1 2929.3 L1318.1 2893 A33.5 33.6 0 0 0 1351.6 2859.4 A33.5 33.6 0 0 0 1318.1 2825.8 L1318.1 2789.4 C1332.66 2789.4 1350.45 2775.02 1350.45 2763.25 Q1350.1 2760.3 1343.9 2759.35 L1343.9 2757.45 Q1351.1 2756.1 1351.9 2749.4 Z" fill="#150e0f"/>
<text text-anchor="middle" font-size="27.8" fill="#b7cdc8" font-weight="normal" transform="translate(1352.54 2817.35) scale(0.7 1)" x="0" y="0">1</text>
<text text-anchor="middle" font-size="27.8" fill="#ee5a7c" font-weight="normal" y="2920.9" x="1352.8">0</text>
<path d="M79.6 846.2 L235.8 846.2 A24.4 24.4 0 0 0 260.2 870.6 L260.2 1113.9 A24.4 24.4 0 0 0 235.8 1138.3 L79.6 1138.3 A24.4 24.4 0 0 0 55.2 1113.9 L55.2 870.6 A24.4 24.4 0 0 0 79.6 846.2 Z" fill="#150e0f"/>
<text text-anchor="middle" font-size="25.6" fill="#fdfdf3" stroke="#fdfdf3" stroke-width="0.55" font-weight="bold" y="909.4" x="129.7 148.43 167.17 185.9">1484</text>
<text text-anchor="middle" x="157.9" y="940.8" font-size="22.4" fill="#fdfdf3" font-style="normal" textLength="50.4" lengthAdjust="spacingAndGlyphs">Papa</text>
<text text-anchor="middle" x="157.5" y="971.8" font-size="22.4" fill="#fdfdf3" font-style="normal" textLength="145.6" lengthAdjust="spacingAndGlyphs">Inocêncio VIII</text>
<text text-anchor="middle" x="157.7" y="1002.2" font-size="22.4" fill="#fdfdf3" font-style="normal" textLength="134.6" lengthAdjust="spacingAndGlyphs">emite a bula</text>
<text text-anchor="middle" x="158" y="1033.1" font-size="22.4" fill="#fdfdf3" font-style="normal" textLength="151.3" lengthAdjust="spacingAndGlyphs">papal <tspan font-style="italic">Summis</tspan></text>
<text text-anchor="middle" x="157.8" y="1064.5" font-size="22.4" fill="#fdfdf3" font-style="italic" textLength="135.7" lengthAdjust="spacingAndGlyphs">Desiderantes</text>
<text text-anchor="middle" x="157.8" y="1095.1" font-size="22.4" fill="#fdfdf3" font-style="italic" textLength="110.8" lengthAdjust="spacingAndGlyphs">Affectibus</text>
<path d="M158 1138 L158 1470" fill="none" stroke="#150e0f" stroke-width="2.4"/>
<rect x="153.8" y="1466.6" width="8.4" height="8.4" fill="#150e0f"/>
<path d="M322.8 959.3 L482.6 959.3 A24.4 24.4 0 0 0 507 983.7 L507 1113.5 A24.4 24.4 0 0 0 482.6 1137.9 L322.8 1137.9 A24.4 24.4 0 0 0 298.4 1113.5 L298.4 983.7 A24.4 24.4 0 0 0 322.8 959.3 Z" fill="#150e0f"/>
<text text-anchor="middle" font-size="25.6" fill="#fdfdf3" stroke="#fdfdf3" stroke-width="0.55" font-weight="bold" y="1012" x="375.35 394.25 413.15 432.05">1486</text>
<text text-anchor="middle" x="404" y="1044" font-size="22.4" fill="#fdfdf3" font-style="normal" textLength="117.8" lengthAdjust="spacingAndGlyphs">Publicação</text>
<text text-anchor="middle" x="404.2" y="1075.3" font-size="22.4" fill="#fdfdf3" font-style="normal" textLength="115.6" lengthAdjust="spacingAndGlyphs">do <tspan font-style="italic">Malleus</tspan></text>
<text text-anchor="middle" x="403.5" y="1106.2" font-size="22.4" fill="#fdfdf3" font-style="italic" textLength="135.8" lengthAdjust="spacingAndGlyphs">Maleficarum</text>
<path d="M404.9 1137 L404.9 1160.1 A15 15 0 0 1 389.9 1175.1 L206.9 1175.1 A15 15 0 0 0 191.9 1190.1 L191.9 1472" fill="none" stroke="#150e0f" stroke-width="2.2"/>
<rect x="187.6" y="1469.8" width="9" height="9" fill="#150e0f"/>
<path d="M624.7 990.5 L766.1 990.5 A24.4 24.4 0 0 0 790.5 1014.9 L790.5 1113.5 A24.4 24.4 0 0 0 766.1 1137.9 L624.7 1137.9 A24.4 24.4 0 0 0 600.3 1113.5 L600.3 1014.9 A24.4 24.4 0 0 0 624.7 990.5 Z" fill="#150e0f"/>
<text text-anchor="middle" font-size="25.6" fill="#fdfdf3" stroke="#fdfdf3" stroke-width="0.55" font-weight="bold" y="1046.2" x="669.7 686.57 703.43 720.3">1519</text>
<text text-anchor="middle" x="695.4" y="1077.9" font-size="22.4" fill="#fdfdf3" font-style="normal" textLength="94.2" lengthAdjust="spacingAndGlyphs">Reforma</text>
<text text-anchor="middle" x="695.4" y="1109.2" font-size="22.4" fill="#fdfdf3" font-style="normal" textLength="128.5" lengthAdjust="spacingAndGlyphs">Protestante</text>
<path d="M696.1 1137 L696.1 1437.5 A14 14 0 0 0 710.1 1451.5 L744.9 1451.5 A14 14 0 0 1 758.9 1465.5 L758.9 1472" fill="none" stroke="#150e0f" stroke-width="2.4"/>
<rect x="755.1" y="1469.4" width="8.4" height="8.4" fill="#150e0f"/>
<path d="M1108.2 988.5 L1297.8 988.5 A24.4 24.4 0 0 0 1322.2 1012.9 L1322.2 1114 A24.4 24.4 0 0 0 1297.8 1138.4 L1108.2 1138.4 A24.4 24.4 0 0 0 1083.8 1114 L1083.8 1012.9 A24.4 24.4 0 0 0 1108.2 988.5 Z" fill="#150e0f"/>
<text text-anchor="middle" font-size="25.6" fill="#fdfdf3" stroke="#fdfdf3" stroke-width="0.55" font-weight="bold" y="1046.4" x="1175.8 1194.13 1212.47 1230.8">1545</text>
<text text-anchor="middle" x="1202.8" y="1078.2" font-size="22.4" fill="#fdfdf3" font-style="normal" textLength="175.1" lengthAdjust="spacingAndGlyphs">Contrarreforma</text>
<text text-anchor="middle" x="1203.1" y="1109.2" font-size="22.4" fill="#fdfdf3" font-style="normal" textLength="89.7" lengthAdjust="spacingAndGlyphs">Católica</text>
<path d="M1203 1137 L1203 1470" fill="none" stroke="#150e0f" stroke-width="2.4"/>
<rect x="1198.8" y="1466.2" width="8.6" height="8.6" fill="#150e0f"/>
<path d="M196.3 2215.5 L361.3 2215.5 A23.5 23.5 0 0 0 384.8 2239 L384.8 2348.6 A23.5 23.5 0 0 0 361.3 2372.1 L196.3 2372.1 A23.5 23.5 0 0 0 172.8 2348.6 L172.8 2239 A23.5 23.5 0 0 0 196.3 2215.5 Z" fill="#150e0f"/>
<text text-anchor="middle" font-size="24.6" fill="#fdfdf3" stroke="#fdfdf3" stroke-width="0.55" font-weight="bold" y="2272.2" x="252.8 269.87 286.93 304">1685</text>
<text text-anchor="middle" x="279" y="2301.9" font-size="21.6" fill="#fdfdf3" font-style="normal" textLength="111" lengthAdjust="spacingAndGlyphs">Difusão do</text>
<text text-anchor="middle" x="279.2" y="2331.5" font-size="21.6" fill="#fdfdf3" font-style="normal" textLength="115.7" lengthAdjust="spacingAndGlyphs">Iluminismo</text>
<path d="M384 2306.6 L452.2 2306.6 A14 14 0 0 1 466.2 2320.6 L466.2 2640" fill="none" stroke="#150e0f" stroke-width="2.8"/>
<rect x="461.2" y="2639.4" width="10.4" height="10.4" fill="#150e0f"/>
</svg>
</body></html>
